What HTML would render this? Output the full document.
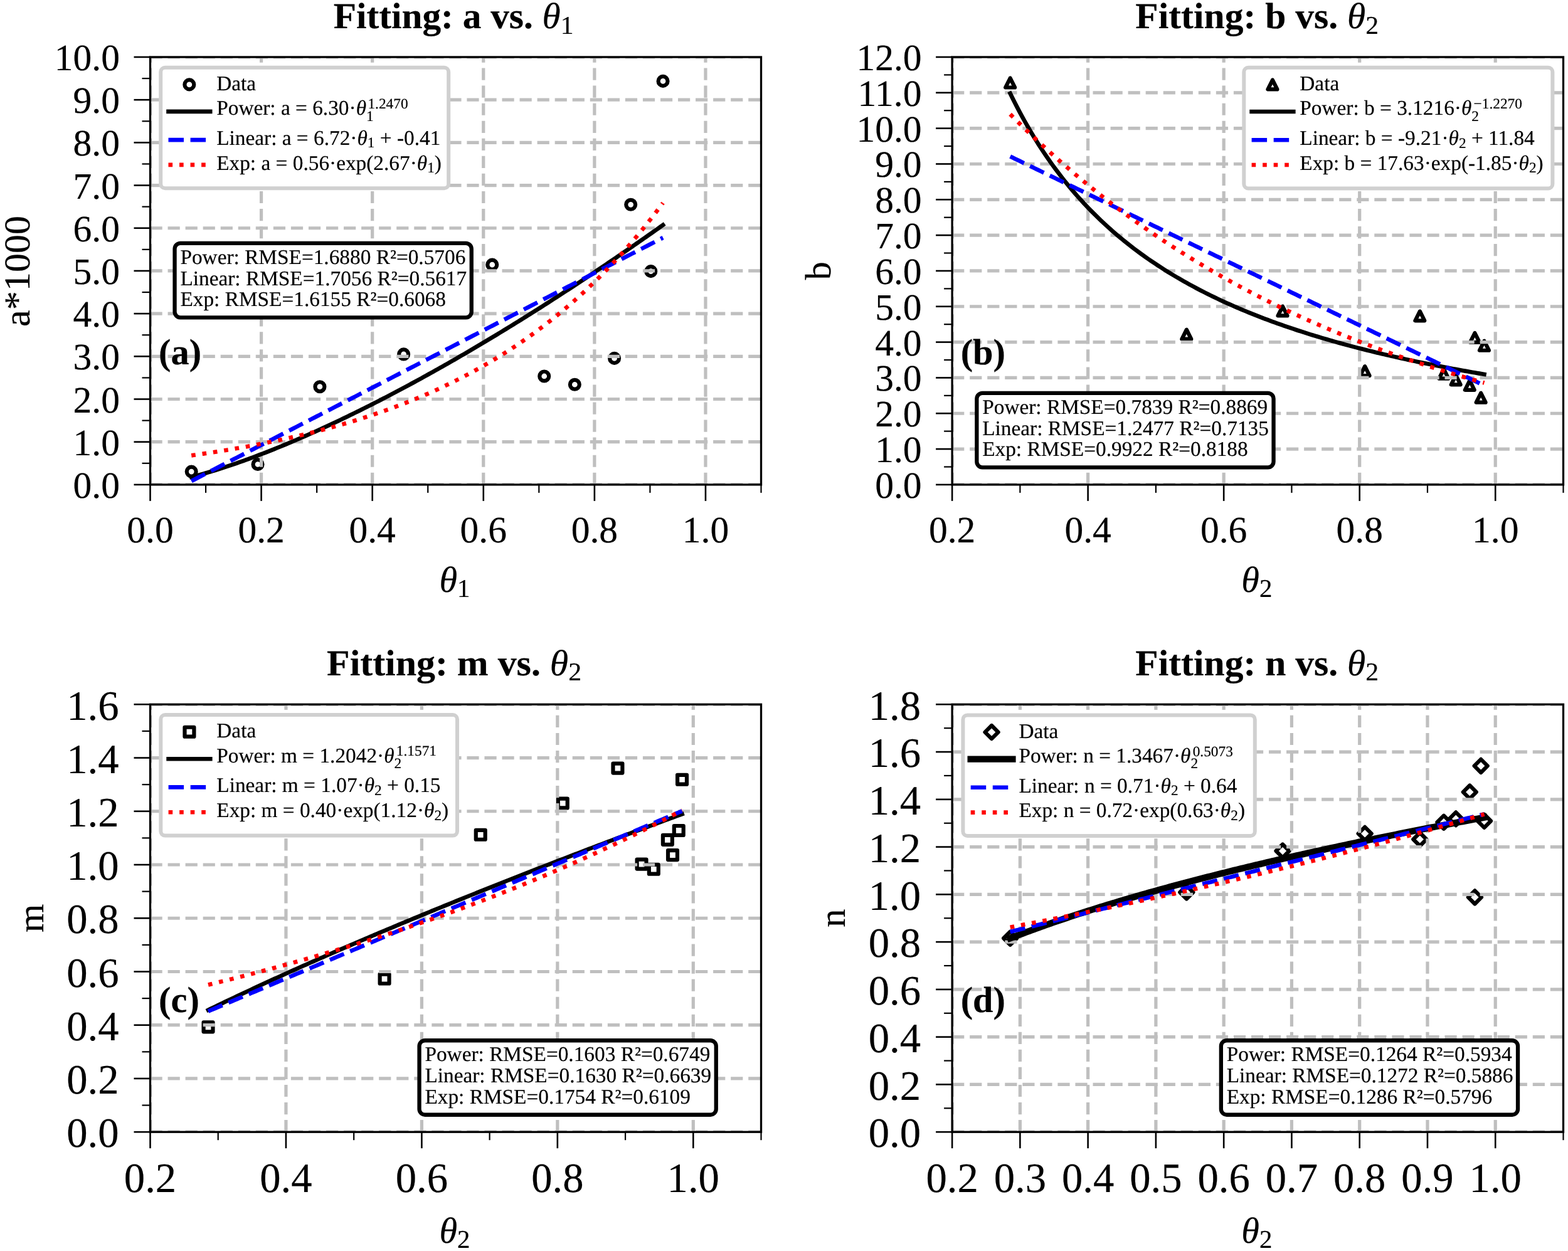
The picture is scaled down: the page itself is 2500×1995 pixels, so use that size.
<!DOCTYPE html>
<html><head><meta charset="utf-8"><title>Fitting results</title>
<style>
html,body{margin:0;padding:0;background:#fff;}
svg{display:block;}
text{text-rendering:geometricPrecision;white-space:pre;stroke:#000;stroke-width:0.2px;stroke-linejoin:round;}
</style></head>
<body>
<svg width="2500" height="1995" viewBox="0 0 2500 1995">
<rect x="0" y="0" width="2500" height="1995" fill="#fff"/>
<clipPath id="clipa"><rect x="239.5" y="91.0" width="974.0" height="681.9"/></clipPath>
<g clip-path="url(#clipa)">
<circle cx="305.2" cy="752.1" r="7.45" fill="none" stroke="#000" stroke-width="6.2" stroke-linejoin="round"/>
<circle cx="411.01" cy="740.51" r="7.45" fill="none" stroke="#000" stroke-width="6.2" stroke-linejoin="round"/>
<circle cx="509.92" cy="616.68" r="7.45" fill="none" stroke="#000" stroke-width="6.2" stroke-linejoin="round"/>
<circle cx="643.62" cy="564.92" r="7.45" fill="none" stroke="#000" stroke-width="6.2" stroke-linejoin="round"/>
<circle cx="784.76" cy="422.13" r="7.45" fill="none" stroke="#000" stroke-width="6.2" stroke-linejoin="round"/>
<circle cx="867.73" cy="599.97" r="7.45" fill="none" stroke="#000" stroke-width="6.2" stroke-linejoin="round"/>
<circle cx="916.34" cy="613.27" r="7.45" fill="none" stroke="#000" stroke-width="6.2" stroke-linejoin="round"/>
<circle cx="979.56" cy="571.4" r="7.45" fill="none" stroke="#000" stroke-width="6.2" stroke-linejoin="round"/>
<circle cx="1005.68" cy="326.32" r="7.45" fill="none" stroke="#000" stroke-width="6.2" stroke-linejoin="round"/>
<circle cx="1037.74" cy="432.63" r="7.45" fill="none" stroke="#000" stroke-width="6.2" stroke-linejoin="round"/>
<circle cx="1057.04" cy="129.39" r="7.45" fill="none" stroke="#000" stroke-width="6.2" stroke-linejoin="round"/>
</g>
<g clip-path="url(#clipa)" stroke="#bfbfbf" stroke-width="5.2" stroke-dasharray="19.2 8.85" fill="none">
<path d="M239.5,772.9 H1213.5"/>
<path d="M239.5,704.71 H1213.5"/>
<path d="M239.5,636.52 H1213.5"/>
<path d="M239.5,568.33 H1213.5"/>
<path d="M239.5,500.14 H1213.5"/>
<path d="M239.5,431.95 H1213.5"/>
<path d="M239.5,363.76 H1213.5"/>
<path d="M239.5,295.57 H1213.5"/>
<path d="M239.5,227.38 H1213.5"/>
<path d="M239.5,159.19 H1213.5"/>
<path d="M239.5,91 H1213.5"/>
<path d="M239.5,772.9 V91"/>
<path d="M416.59,772.9 V91"/>
<path d="M593.68,772.9 V91"/>
<path d="M770.77,772.9 V91"/>
<path d="M947.86,772.9 V91"/>
<path d="M1124.95,772.9 V91"/>
</g>
<g clip-path="url(#clipa)" fill="none" stroke-linejoin="round">
<path d="M305.2,760.76 L308.98,759.77 L312.76,758.76 L316.53,757.73 L320.31,756.68 L324.09,755.61 L327.87,754.52 L331.65,753.41 L335.43,752.28 L339.2,751.14 L342.98,749.97 L346.76,748.79 L350.54,747.59 L354.32,746.38 L358.09,745.15 L361.87,743.91 L365.65,742.64 L369.43,741.37 L373.21,740.08 L376.98,738.77 L380.76,737.45 L384.54,736.12 L388.32,734.77 L392.1,733.41 L395.87,732.03 L399.65,730.64 L403.43,729.24 L407.21,727.82 L410.99,726.4 L414.77,724.96 L418.54,723.5 L422.32,722.04 L426.1,720.56 L429.88,719.07 L433.66,717.57 L437.43,716.06 L441.21,714.53 L444.99,712.99 L448.77,711.45 L452.55,709.89 L456.32,708.32 L460.1,706.74 L463.88,705.15 L467.66,703.54 L471.44,701.93 L475.21,700.31 L478.99,698.67 L482.77,697.03 L486.55,695.37 L490.33,693.71 L494.11,692.03 L497.88,690.35 L501.66,688.65 L505.44,686.95 L509.22,685.23 L513,683.51 L516.77,681.78 L520.55,680.03 L524.33,678.28 L528.11,676.52 L531.89,674.75 L535.66,672.97 L539.44,671.18 L543.22,669.38 L547,667.57 L550.78,665.76 L554.55,663.93 L558.33,662.1 L562.11,660.26 L565.89,658.4 L569.67,656.55 L573.44,654.68 L577.22,652.8 L581,650.91 L584.78,649.02 L588.56,647.12 L592.34,645.21 L596.11,643.29 L599.89,641.36 L603.67,639.43 L607.45,637.49 L611.23,635.54 L615,633.58 L618.78,631.61 L622.56,629.64 L626.34,627.66 L630.12,625.67 L633.89,623.67 L637.67,621.66 L641.45,619.65 L645.23,617.63 L649.01,615.6 L652.78,613.57 L656.56,611.52 L660.34,609.47 L664.12,607.42 L667.9,605.35 L671.68,603.28 L675.45,601.2 L679.23,599.11 L683.01,597.02 L686.79,594.92 L690.57,592.81 L694.34,590.69 L698.12,588.57 L701.9,586.44 L705.68,584.3 L709.46,582.16 L713.23,580.01 L717.01,577.85 L720.79,575.69 L724.57,573.52 L728.35,571.34 L732.12,569.16 L735.9,566.97 L739.68,564.77 L743.46,562.57 L747.24,560.35 L751.02,558.14 L754.79,555.91 L758.57,553.68 L762.35,551.45 L766.13,549.2 L769.91,546.95 L773.68,544.7 L777.46,542.43 L781.24,540.16 L785.02,537.89 L788.8,535.61 L792.57,533.32 L796.35,531.02 L800.13,528.72 L803.91,526.42 L807.69,524.1 L811.46,521.78 L815.24,519.46 L819.02,517.13 L822.8,514.79 L826.58,512.45 L830.35,510.1 L834.13,507.74 L837.91,505.38 L841.69,503.01 L845.47,500.64 L849.25,498.26 L853.02,495.87 L856.8,493.48 L860.58,491.09 L864.36,488.68 L868.14,486.27 L871.91,483.86 L875.69,481.44 L879.47,479.01 L883.25,476.58 L887.03,474.14 L890.8,471.7 L894.58,469.25 L898.36,466.8 L902.14,464.34 L905.92,461.87 L909.69,459.4 L913.47,456.92 L917.25,454.44 L921.03,451.95 L924.81,449.46 L928.59,446.96 L932.36,444.45 L936.14,441.94 L939.92,439.43 L943.7,436.91 L947.48,434.38 L951.25,431.85 L955.03,429.31 L958.81,426.77 L962.59,424.22 L966.37,421.67 L970.14,419.11 L973.92,416.55 L977.7,413.98 L981.48,411.4 L985.26,408.82 L989.03,406.24 L992.81,403.65 L996.59,401.05 L1000.37,398.45 L1004.15,395.85 L1007.93,393.24 L1011.7,390.62 L1015.48,388 L1019.26,385.37 L1023.04,382.74 L1026.82,380.1 L1030.59,377.46 L1034.37,374.82 L1038.15,372.17 L1041.93,369.51 L1045.71,366.85 L1049.48,364.18 L1053.26,361.51 L1057.04,358.83" stroke="#000" stroke-width="6.62" stroke-linecap="square"/>
<path d="M305.2,767.15 L308.98,765.2 L312.76,763.25 L316.53,761.3 L320.31,759.35 L324.09,757.4 L327.87,755.45 L331.65,753.5 L335.43,751.55 L339.2,749.59 L342.98,747.64 L346.76,745.69 L350.54,743.74 L354.32,741.79 L358.09,739.84 L361.87,737.89 L365.65,735.94 L369.43,733.99 L373.21,732.04 L376.98,730.09 L380.76,728.14 L384.54,726.19 L388.32,724.24 L392.1,722.29 L395.87,720.34 L399.65,718.39 L403.43,716.44 L407.21,714.49 L410.99,712.54 L414.77,710.59 L418.54,708.64 L422.32,706.69 L426.1,704.74 L429.88,702.79 L433.66,700.84 L437.43,698.89 L441.21,696.94 L444.99,694.99 L448.77,693.04 L452.55,691.09 L456.32,689.14 L460.1,687.19 L463.88,685.24 L467.66,683.29 L471.44,681.34 L475.21,679.38 L478.99,677.43 L482.77,675.48 L486.55,673.53 L490.33,671.58 L494.11,669.63 L497.88,667.68 L501.66,665.73 L505.44,663.78 L509.22,661.83 L513,659.88 L516.77,657.93 L520.55,655.98 L524.33,654.03 L528.11,652.08 L531.89,650.13 L535.66,648.18 L539.44,646.23 L543.22,644.28 L547,642.33 L550.78,640.38 L554.55,638.43 L558.33,636.48 L562.11,634.53 L565.89,632.58 L569.67,630.63 L573.44,628.68 L577.22,626.73 L581,624.78 L584.78,622.83 L588.56,620.88 L592.34,618.93 L596.11,616.98 L599.89,615.03 L603.67,613.08 L607.45,611.13 L611.23,609.18 L615,607.22 L618.78,605.27 L622.56,603.32 L626.34,601.37 L630.12,599.42 L633.89,597.47 L637.67,595.52 L641.45,593.57 L645.23,591.62 L649.01,589.67 L652.78,587.72 L656.56,585.77 L660.34,583.82 L664.12,581.87 L667.9,579.92 L671.68,577.97 L675.45,576.02 L679.23,574.07 L683.01,572.12 L686.79,570.17 L690.57,568.22 L694.34,566.27 L698.12,564.32 L701.9,562.37 L705.68,560.42 L709.46,558.47 L713.23,556.52 L717.01,554.57 L720.79,552.62 L724.57,550.67 L728.35,548.72 L732.12,546.77 L735.9,544.82 L739.68,542.87 L743.46,540.92 L747.24,538.97 L751.02,537.01 L754.79,535.06 L758.57,533.11 L762.35,531.16 L766.13,529.21 L769.91,527.26 L773.68,525.31 L777.46,523.36 L781.24,521.41 L785.02,519.46 L788.8,517.51 L792.57,515.56 L796.35,513.61 L800.13,511.66 L803.91,509.71 L807.69,507.76 L811.46,505.81 L815.24,503.86 L819.02,501.91 L822.8,499.96 L826.58,498.01 L830.35,496.06 L834.13,494.11 L837.91,492.16 L841.69,490.21 L845.47,488.26 L849.25,486.31 L853.02,484.36 L856.8,482.41 L860.58,480.46 L864.36,478.51 L868.14,476.56 L871.91,474.61 L875.69,472.66 L879.47,470.71 L883.25,468.76 L887.03,466.81 L890.8,464.85 L894.58,462.9 L898.36,460.95 L902.14,459 L905.92,457.05 L909.69,455.1 L913.47,453.15 L917.25,451.2 L921.03,449.25 L924.81,447.3 L928.59,445.35 L932.36,443.4 L936.14,441.45 L939.92,439.5 L943.7,437.55 L947.48,435.6 L951.25,433.65 L955.03,431.7 L958.81,429.75 L962.59,427.8 L966.37,425.85 L970.14,423.9 L973.92,421.95 L977.7,420 L981.48,418.05 L985.26,416.1 L989.03,414.15 L992.81,412.2 L996.59,410.25 L1000.37,408.3 L1004.15,406.35 L1007.93,404.4 L1011.7,402.45 L1015.48,400.5 L1019.26,398.55 L1023.04,396.6 L1026.82,394.64 L1030.59,392.69 L1034.37,390.74 L1038.15,388.79 L1041.93,386.84 L1045.71,384.89 L1049.48,382.94 L1053.26,380.99 L1057.04,379.04" stroke="#0000ff" stroke-width="6.62" stroke-dasharray="24.49 10.59" stroke-linecap="butt"/>
<path d="M305.2,726.35 L308.98,725.81 L312.76,725.27 L316.53,724.73 L320.31,724.18 L324.09,723.62 L327.87,723.05 L331.65,722.48 L335.43,721.9 L339.2,721.32 L342.98,720.73 L346.76,720.13 L350.54,719.53 L354.32,718.92 L358.09,718.3 L361.87,717.67 L365.65,717.04 L369.43,716.4 L373.21,715.75 L376.98,715.1 L380.76,714.43 L384.54,713.76 L388.32,713.09 L392.1,712.4 L395.87,711.71 L399.65,711.01 L403.43,710.3 L407.21,709.58 L410.99,708.86 L414.77,708.12 L418.54,707.38 L422.32,706.63 L426.1,705.87 L429.88,705.1 L433.66,704.32 L437.43,703.54 L441.21,702.74 L444.99,701.94 L448.77,701.13 L452.55,700.3 L456.32,699.47 L460.1,698.63 L463.88,697.78 L467.66,696.92 L471.44,696.05 L475.21,695.17 L478.99,694.28 L482.77,693.38 L486.55,692.47 L490.33,691.54 L494.11,690.61 L497.88,689.67 L501.66,688.72 L505.44,687.75 L509.22,686.78 L513,685.79 L516.77,684.79 L520.55,683.78 L524.33,682.76 L528.11,681.73 L531.89,680.68 L535.66,679.63 L539.44,678.56 L543.22,677.48 L547,676.38 L550.78,675.28 L554.55,674.16 L558.33,673.03 L562.11,671.88 L565.89,670.73 L569.67,669.56 L573.44,668.37 L577.22,667.17 L581,665.96 L584.78,664.74 L588.56,663.5 L592.34,662.24 L596.11,660.98 L599.89,659.69 L603.67,658.4 L607.45,657.09 L611.23,655.76 L615,654.42 L618.78,653.06 L622.56,651.69 L626.34,650.3 L630.12,648.89 L633.89,647.47 L637.67,646.03 L641.45,644.58 L645.23,643.11 L649.01,641.62 L652.78,640.12 L656.56,638.6 L660.34,637.06 L664.12,635.5 L667.9,633.93 L671.68,632.34 L675.45,630.73 L679.23,629.1 L683.01,627.45 L686.79,625.78 L690.57,624.1 L694.34,622.39 L698.12,620.67 L701.9,618.92 L705.68,617.16 L709.46,615.37 L713.23,613.57 L717.01,611.74 L720.79,609.9 L724.57,608.03 L728.35,606.14 L732.12,604.23 L735.9,602.3 L739.68,600.34 L743.46,598.37 L747.24,596.37 L751.02,594.34 L754.79,592.3 L758.57,590.23 L762.35,588.14 L766.13,586.02 L769.91,583.88 L773.68,581.71 L777.46,579.52 L781.24,577.31 L785.02,575.06 L788.8,572.8 L792.57,570.51 L796.35,568.19 L800.13,565.84 L803.91,563.47 L807.69,561.07 L811.46,558.64 L815.24,556.19 L819.02,553.7 L822.8,551.19 L826.58,548.65 L830.35,546.08 L834.13,543.48 L837.91,540.86 L841.69,538.2 L845.47,535.51 L849.25,532.79 L853.02,530.04 L856.8,527.25 L860.58,524.44 L864.36,521.59 L868.14,518.71 L871.91,515.8 L875.69,512.86 L879.47,509.88 L883.25,506.86 L887.03,503.81 L890.8,500.73 L894.58,497.61 L898.36,494.46 L902.14,491.27 L905.92,488.04 L909.69,484.78 L913.47,481.48 L917.25,478.14 L921.03,474.76 L924.81,471.34 L928.59,467.89 L932.36,464.39 L936.14,460.86 L939.92,457.28 L943.7,453.67 L947.48,450.01 L951.25,446.31 L955.03,442.57 L958.81,438.78 L962.59,434.96 L966.37,431.08 L970.14,427.17 L973.92,423.21 L977.7,419.2 L981.48,415.15 L985.26,411.05 L989.03,406.9 L992.81,402.71 L996.59,398.47 L1000.37,394.18 L1004.15,389.84 L1007.93,385.45 L1011.7,381.01 L1015.48,376.52 L1019.26,371.98 L1023.04,367.38 L1026.82,362.74 L1030.59,358.04 L1034.37,353.29 L1038.15,348.48 L1041.93,343.62 L1045.71,338.7 L1049.48,333.72 L1053.26,328.69 L1057.04,323.6" stroke="#ff0000" stroke-width="6.62" stroke-dasharray="6.62 10.92" stroke-linecap="butt"/>
</g>
<rect x="239.5" y="91.0" width="974" height="681.9" fill="none" stroke="#000" stroke-width="3.3" stroke-linejoin="miter"/>
<g stroke="#000" fill="none"><path d="M239.5,772.9 V798.9" stroke-width="2.6"/><path d="M416.59,772.9 V798.9" stroke-width="2.6"/><path d="M593.68,772.9 V798.9" stroke-width="2.6"/><path d="M770.77,772.9 V798.9" stroke-width="2.6"/><path d="M947.86,772.9 V798.9" stroke-width="2.6"/><path d="M1124.95,772.9 V798.9" stroke-width="2.6"/><path d="M328.05,772.9 V785.9" stroke-width="2.2"/><path d="M505.14,772.9 V785.9" stroke-width="2.2"/><path d="M682.23,772.9 V785.9" stroke-width="2.2"/><path d="M859.32,772.9 V785.9" stroke-width="2.2"/><path d="M1036.41,772.9 V785.9" stroke-width="2.2"/><path d="M1213.5,772.9 V785.9" stroke-width="2.2"/><path d="M239.5,772.9 H213.5" stroke-width="2.6"/><path d="M239.5,704.71 H213.5" stroke-width="2.6"/><path d="M239.5,636.52 H213.5" stroke-width="2.6"/><path d="M239.5,568.33 H213.5" stroke-width="2.6"/><path d="M239.5,500.14 H213.5" stroke-width="2.6"/><path d="M239.5,431.95 H213.5" stroke-width="2.6"/><path d="M239.5,363.76 H213.5" stroke-width="2.6"/><path d="M239.5,295.57 H213.5" stroke-width="2.6"/><path d="M239.5,227.38 H213.5" stroke-width="2.6"/><path d="M239.5,159.19 H213.5" stroke-width="2.6"/><path d="M239.5,91 H213.5" stroke-width="2.6"/><path d="M239.5,738.8 H226.5" stroke-width="2.2"/><path d="M239.5,670.62 H226.5" stroke-width="2.2"/><path d="M239.5,602.42 H226.5" stroke-width="2.2"/><path d="M239.5,534.24 H226.5" stroke-width="2.2"/><path d="M239.5,466.04 H226.5" stroke-width="2.2"/><path d="M239.5,397.85 H226.5" stroke-width="2.2"/><path d="M239.5,329.66 H226.5" stroke-width="2.2"/><path d="M239.5,261.48 H226.5" stroke-width="2.2"/><path d="M239.5,193.28 H226.5" stroke-width="2.2"/><path d="M239.5,125.1 H226.5" stroke-width="2.2"/></g>
<g font-family="'Liberation Serif','Times New Roman',serif" font-size="59.5" fill="#000">
<text x="239.5" y="864.5" text-anchor="middle">0.0</text>
<text x="416.59" y="864.5" text-anchor="middle">0.2</text>
<text x="593.68" y="864.5" text-anchor="middle">0.4</text>
<text x="770.77" y="864.5" text-anchor="middle">0.6</text>
<text x="947.86" y="864.5" text-anchor="middle">0.8</text>
<text x="1124.95" y="864.5" text-anchor="middle">1.0</text>
<text x="190.9" y="793.9" text-anchor="end">0.0</text>
<text x="190.9" y="725.71" text-anchor="end">1.0</text>
<text x="190.9" y="657.52" text-anchor="end">2.0</text>
<text x="190.9" y="589.33" text-anchor="end">3.0</text>
<text x="190.9" y="521.14" text-anchor="end">4.0</text>
<text x="190.9" y="452.95" text-anchor="end">5.0</text>
<text x="190.9" y="384.76" text-anchor="end">6.0</text>
<text x="190.9" y="316.57" text-anchor="end">7.0</text>
<text x="190.9" y="248.38" text-anchor="end">8.0</text>
<text x="190.9" y="180.19" text-anchor="end">9.0</text>
<text x="190.9" y="112" text-anchor="end">10.0</text>
</g>
<clipPath id="clipb"><rect x="1518.1" y="91.0" width="974.4000000000001" height="681.9"/></clipPath>
<g clip-path="url(#clipb)">
<path d="M1610.67,124.58 L1603.22,139.48 L1618.12,139.48 Z" fill="none" stroke="#000" stroke-width="6.2" stroke-linejoin="round"/>
<path d="M1891.84,525.76 L1884.39,540.66 L1899.29,540.66 Z" fill="none" stroke="#000" stroke-width="6.2" stroke-linejoin="round"/>
<path d="M2045.03,488.54 L2037.58,503.44 L2052.48,503.44 Z" fill="none" stroke="#000" stroke-width="6.2" stroke-linejoin="round"/>
<path d="M2176.14,584.18 L2168.69,599.08 L2183.59,599.08 Z" fill="none" stroke="#000" stroke-width="6.2" stroke-linejoin="round"/>
<path d="M2263.84,496.44 L2256.39,511.34 L2271.29,511.34 Z" fill="none" stroke="#000" stroke-width="6.2" stroke-linejoin="round"/>
<path d="M2301.95,588.72 L2294.5,603.62 L2309.4,603.62 Z" fill="none" stroke="#000" stroke-width="6.2" stroke-linejoin="round"/>
<path d="M2321.22,598.38 L2313.77,613.28 L2328.67,613.28 Z" fill="none" stroke="#000" stroke-width="6.2" stroke-linejoin="round"/>
<path d="M2343.31,606.91 L2335.86,621.81 L2350.76,621.81 Z" fill="none" stroke="#000" stroke-width="6.2" stroke-linejoin="round"/>
<path d="M2351.43,531.05 L2343.98,545.95 L2358.88,545.95 Z" fill="none" stroke="#000" stroke-width="6.2" stroke-linejoin="round"/>
<path d="M2361.17,626.8 L2353.72,641.7 L2368.62,641.7 Z" fill="none" stroke="#000" stroke-width="6.2" stroke-linejoin="round"/>
<path d="M2366.48,543.83 L2359.03,558.73 L2373.93,558.73 Z" fill="none" stroke="#000" stroke-width="6.2" stroke-linejoin="round"/>
</g>
<g clip-path="url(#clipb)" stroke="#bfbfbf" stroke-width="5.2" stroke-dasharray="19.2 8.85" fill="none">
<path d="M1518.1,772.9 H2492.5"/>
<path d="M1518.1,716.07 H2492.5"/>
<path d="M1518.1,659.25 H2492.5"/>
<path d="M1518.1,602.42 H2492.5"/>
<path d="M1518.1,545.6 H2492.5"/>
<path d="M1518.1,488.77 H2492.5"/>
<path d="M1518.1,431.95 H2492.5"/>
<path d="M1518.1,375.12 H2492.5"/>
<path d="M1518.1,318.3 H2492.5"/>
<path d="M1518.1,261.48 H2492.5"/>
<path d="M1518.1,204.65 H2492.5"/>
<path d="M1518.1,147.83 H2492.5"/>
<path d="M1518.1,91 H2492.5"/>
<path d="M1518.1,772.9 V91"/>
<path d="M1734.63,772.9 V91"/>
<path d="M1951.17,772.9 V91"/>
<path d="M2167.7,772.9 V91"/>
<path d="M2384.23,772.9 V91"/>
</g>
<g clip-path="url(#clipb)" fill="none" stroke-linejoin="round">
<path d="M1610.67,148.95 L1614.47,156.7 L1618.26,164.26 L1622.06,171.64 L1625.86,178.84 L1629.66,185.88 L1633.46,192.75 L1637.25,199.46 L1641.05,206.03 L1644.85,212.44 L1648.65,218.72 L1652.45,224.86 L1656.24,230.86 L1660.04,236.74 L1663.84,242.49 L1667.64,248.12 L1671.44,253.63 L1675.23,259.03 L1679.03,264.32 L1682.83,269.5 L1686.63,274.58 L1690.43,279.56 L1694.22,284.44 L1698.02,289.23 L1701.82,293.93 L1705.62,298.53 L1709.42,303.05 L1713.22,307.49 L1717.01,311.84 L1720.81,316.11 L1724.61,320.31 L1728.41,324.43 L1732.21,328.48 L1736,332.45 L1739.8,336.36 L1743.6,340.19 L1747.4,343.97 L1751.2,347.67 L1754.99,351.32 L1758.79,354.9 L1762.59,358.42 L1766.39,361.89 L1770.19,365.3 L1773.98,368.65 L1777.78,371.95 L1781.58,375.19 L1785.38,378.39 L1789.18,381.53 L1792.97,384.63 L1796.77,387.67 L1800.57,390.67 L1804.37,393.63 L1808.17,396.54 L1811.96,399.4 L1815.76,402.22 L1819.56,405 L1823.36,407.74 L1827.16,410.44 L1830.95,413.1 L1834.75,415.73 L1838.55,418.31 L1842.35,420.86 L1846.15,423.37 L1849.94,425.85 L1853.74,428.29 L1857.54,430.7 L1861.34,433.07 L1865.14,435.42 L1868.93,437.73 L1872.73,440.01 L1876.53,442.26 L1880.33,444.48 L1884.13,446.67 L1887.92,448.83 L1891.72,450.96 L1895.52,453.07 L1899.32,455.15 L1903.12,457.2 L1906.91,459.23 L1910.71,461.23 L1914.51,463.21 L1918.31,465.16 L1922.11,467.08 L1925.91,468.99 L1929.7,470.87 L1933.5,472.73 L1937.3,474.56 L1941.1,476.37 L1944.9,478.16 L1948.69,479.93 L1952.49,481.68 L1956.29,483.41 L1960.09,485.12 L1963.89,486.81 L1967.68,488.48 L1971.48,490.13 L1975.28,491.76 L1979.08,493.37 L1982.88,494.96 L1986.67,496.54 L1990.47,498.1 L1994.27,499.64 L1998.07,501.17 L2001.87,502.67 L2005.66,504.17 L2009.46,505.64 L2013.26,507.1 L2017.06,508.54 L2020.86,509.97 L2024.65,511.38 L2028.45,512.78 L2032.25,514.17 L2036.05,515.53 L2039.85,516.89 L2043.64,518.23 L2047.44,519.56 L2051.24,520.87 L2055.04,522.17 L2058.84,523.46 L2062.63,524.73 L2066.43,525.99 L2070.23,527.24 L2074.03,528.47 L2077.83,529.7 L2081.62,530.91 L2085.42,532.11 L2089.22,533.3 L2093.02,534.47 L2096.82,535.64 L2100.61,536.79 L2104.41,537.94 L2108.21,539.07 L2112.01,540.19 L2115.81,541.3 L2119.61,542.4 L2123.4,543.49 L2127.2,544.57 L2131,545.64 L2134.8,546.7 L2138.6,547.75 L2142.39,548.79 L2146.19,549.82 L2149.99,550.84 L2153.79,551.85 L2157.59,552.86 L2161.38,553.85 L2165.18,554.84 L2168.98,555.82 L2172.78,556.78 L2176.58,557.74 L2180.37,558.69 L2184.17,559.64 L2187.97,560.57 L2191.77,561.5 L2195.57,562.42 L2199.36,563.33 L2203.16,564.23 L2206.96,565.13 L2210.76,566.02 L2214.56,566.9 L2218.35,567.77 L2222.15,568.64 L2225.95,569.49 L2229.75,570.35 L2233.55,571.19 L2237.34,572.03 L2241.14,572.86 L2244.94,573.68 L2248.74,574.5 L2252.54,575.31 L2256.33,576.12 L2260.13,576.91 L2263.93,577.7 L2267.73,578.49 L2271.53,579.27 L2275.32,580.04 L2279.12,580.81 L2282.92,581.57 L2286.72,582.32 L2290.52,583.07 L2294.31,583.82 L2298.11,584.55 L2301.91,585.28 L2305.71,586.01 L2309.51,586.73 L2313.31,587.45 L2317.1,588.16 L2320.9,588.86 L2324.7,589.56 L2328.5,590.25 L2332.3,590.94 L2336.09,591.62 L2339.89,592.3 L2343.69,592.98 L2347.49,593.65 L2351.29,594.31 L2355.08,594.97 L2358.88,595.62 L2362.68,596.27 L2366.48,596.92" stroke="#000" stroke-width="6.62" stroke-linecap="square"/>
<path d="M1610.67,249.51 L1614.47,251.35 L1618.26,253.18 L1622.06,255.02 L1625.86,256.85 L1629.66,258.69 L1633.46,260.53 L1637.25,262.36 L1641.05,264.2 L1644.85,266.03 L1648.65,267.87 L1652.45,269.71 L1656.24,271.54 L1660.04,273.38 L1663.84,275.21 L1667.64,277.05 L1671.44,278.89 L1675.23,280.72 L1679.03,282.56 L1682.83,284.39 L1686.63,286.23 L1690.43,288.07 L1694.22,289.9 L1698.02,291.74 L1701.82,293.57 L1705.62,295.41 L1709.42,297.25 L1713.22,299.08 L1717.01,300.92 L1720.81,302.75 L1724.61,304.59 L1728.41,306.43 L1732.21,308.26 L1736,310.1 L1739.8,311.93 L1743.6,313.77 L1747.4,315.61 L1751.2,317.44 L1754.99,319.28 L1758.79,321.11 L1762.59,322.95 L1766.39,324.79 L1770.19,326.62 L1773.98,328.46 L1777.78,330.29 L1781.58,332.13 L1785.38,333.97 L1789.18,335.8 L1792.97,337.64 L1796.77,339.47 L1800.57,341.31 L1804.37,343.14 L1808.17,344.98 L1811.96,346.82 L1815.76,348.65 L1819.56,350.49 L1823.36,352.32 L1827.16,354.16 L1830.95,356 L1834.75,357.83 L1838.55,359.67 L1842.35,361.5 L1846.15,363.34 L1849.94,365.18 L1853.74,367.01 L1857.54,368.85 L1861.34,370.68 L1865.14,372.52 L1868.93,374.36 L1872.73,376.19 L1876.53,378.03 L1880.33,379.86 L1884.13,381.7 L1887.92,383.54 L1891.72,385.37 L1895.52,387.21 L1899.32,389.04 L1903.12,390.88 L1906.91,392.72 L1910.71,394.55 L1914.51,396.39 L1918.31,398.22 L1922.11,400.06 L1925.91,401.9 L1929.7,403.73 L1933.5,405.57 L1937.3,407.4 L1941.1,409.24 L1944.9,411.08 L1948.69,412.91 L1952.49,414.75 L1956.29,416.58 L1960.09,418.42 L1963.89,420.26 L1967.68,422.09 L1971.48,423.93 L1975.28,425.76 L1979.08,427.6 L1982.88,429.44 L1986.67,431.27 L1990.47,433.11 L1994.27,434.94 L1998.07,436.78 L2001.87,438.61 L2005.66,440.45 L2009.46,442.29 L2013.26,444.12 L2017.06,445.96 L2020.86,447.79 L2024.65,449.63 L2028.45,451.47 L2032.25,453.3 L2036.05,455.14 L2039.85,456.97 L2043.64,458.81 L2047.44,460.65 L2051.24,462.48 L2055.04,464.32 L2058.84,466.15 L2062.63,467.99 L2066.43,469.83 L2070.23,471.66 L2074.03,473.5 L2077.83,475.33 L2081.62,477.17 L2085.42,479.01 L2089.22,480.84 L2093.02,482.68 L2096.82,484.51 L2100.61,486.35 L2104.41,488.19 L2108.21,490.02 L2112.01,491.86 L2115.81,493.69 L2119.61,495.53 L2123.4,497.37 L2127.2,499.2 L2131,501.04 L2134.8,502.87 L2138.6,504.71 L2142.39,506.55 L2146.19,508.38 L2149.99,510.22 L2153.79,512.05 L2157.59,513.89 L2161.38,515.73 L2165.18,517.56 L2168.98,519.4 L2172.78,521.23 L2176.58,523.07 L2180.37,524.91 L2184.17,526.74 L2187.97,528.58 L2191.77,530.41 L2195.57,532.25 L2199.36,534.08 L2203.16,535.92 L2206.96,537.76 L2210.76,539.59 L2214.56,541.43 L2218.35,543.26 L2222.15,545.1 L2225.95,546.94 L2229.75,548.77 L2233.55,550.61 L2237.34,552.44 L2241.14,554.28 L2244.94,556.12 L2248.74,557.95 L2252.54,559.79 L2256.33,561.62 L2260.13,563.46 L2263.93,565.3 L2267.73,567.13 L2271.53,568.97 L2275.32,570.8 L2279.12,572.64 L2282.92,574.48 L2286.72,576.31 L2290.52,578.15 L2294.31,579.98 L2298.11,581.82 L2301.91,583.66 L2305.71,585.49 L2309.51,587.33 L2313.31,589.16 L2317.1,591 L2320.9,592.84 L2324.7,594.67 L2328.5,596.51 L2332.3,598.34 L2336.09,600.18 L2339.89,602.02 L2343.69,603.85 L2347.49,605.69 L2351.29,607.52 L2355.08,609.36 L2358.88,611.2 L2362.68,613.03 L2366.48,614.87" stroke="#0000ff" stroke-width="6.62" stroke-dasharray="24.49 10.59" stroke-linecap="butt"/>
<path d="M1610.67,182.14 L1614.47,185.97 L1618.26,189.76 L1622.06,193.53 L1625.86,197.28 L1629.66,201.01 L1633.46,204.71 L1637.25,208.38 L1641.05,212.03 L1644.85,215.66 L1648.65,219.27 L1652.45,222.85 L1656.24,226.41 L1660.04,229.94 L1663.84,233.45 L1667.64,236.94 L1671.44,240.41 L1675.23,243.85 L1679.03,247.28 L1682.83,250.68 L1686.63,254.05 L1690.43,257.41 L1694.22,260.75 L1698.02,264.06 L1701.82,267.35 L1705.62,270.62 L1709.42,273.87 L1713.22,277.1 L1717.01,280.31 L1720.81,283.49 L1724.61,286.66 L1728.41,289.8 L1732.21,292.93 L1736,296.03 L1739.8,299.12 L1743.6,302.18 L1747.4,305.23 L1751.2,308.25 L1754.99,311.26 L1758.79,314.25 L1762.59,317.21 L1766.39,320.16 L1770.19,323.09 L1773.98,326 L1777.78,328.89 L1781.58,331.76 L1785.38,334.62 L1789.18,337.45 L1792.97,340.27 L1796.77,343.07 L1800.57,345.85 L1804.37,348.61 L1808.17,351.35 L1811.96,354.08 L1815.76,356.79 L1819.56,359.48 L1823.36,362.16 L1827.16,364.81 L1830.95,367.45 L1834.75,370.08 L1838.55,372.68 L1842.35,375.27 L1846.15,377.84 L1849.94,380.4 L1853.74,382.94 L1857.54,385.46 L1861.34,387.97 L1865.14,390.46 L1868.93,392.93 L1872.73,395.39 L1876.53,397.83 L1880.33,400.26 L1884.13,402.67 L1887.92,405.06 L1891.72,407.44 L1895.52,409.81 L1899.32,412.15 L1903.12,414.49 L1906.91,416.81 L1910.71,419.11 L1914.51,421.4 L1918.31,423.67 L1922.11,425.93 L1925.91,428.18 L1929.7,430.41 L1933.5,432.62 L1937.3,434.82 L1941.1,437.01 L1944.9,439.18 L1948.69,441.34 L1952.49,443.49 L1956.29,445.62 L1960.09,447.73 L1963.89,449.84 L1967.68,451.93 L1971.48,454 L1975.28,456.07 L1979.08,458.12 L1982.88,460.15 L1986.67,462.18 L1990.47,464.19 L1994.27,466.18 L1998.07,468.17 L2001.87,470.14 L2005.66,472.1 L2009.46,474.04 L2013.26,475.98 L2017.06,477.9 L2020.86,479.8 L2024.65,481.7 L2028.45,483.58 L2032.25,485.46 L2036.05,487.32 L2039.85,489.16 L2043.64,491 L2047.44,492.82 L2051.24,494.63 L2055.04,496.43 L2058.84,498.22 L2062.63,500 L2066.43,501.76 L2070.23,503.52 L2074.03,505.26 L2077.83,506.99 L2081.62,508.71 L2085.42,510.42 L2089.22,512.12 L2093.02,513.81 L2096.82,515.48 L2100.61,517.15 L2104.41,518.8 L2108.21,520.45 L2112.01,522.08 L2115.81,523.7 L2119.61,525.31 L2123.4,526.92 L2127.2,528.51 L2131,530.09 L2134.8,531.66 L2138.6,533.22 L2142.39,534.77 L2146.19,536.31 L2149.99,537.84 L2153.79,539.36 L2157.59,540.87 L2161.38,542.37 L2165.18,543.86 L2168.98,545.35 L2172.78,546.82 L2176.58,548.28 L2180.37,549.73 L2184.17,551.18 L2187.97,552.61 L2191.77,554.04 L2195.57,555.45 L2199.36,556.86 L2203.16,558.26 L2206.96,559.64 L2210.76,561.02 L2214.56,562.39 L2218.35,563.76 L2222.15,565.11 L2225.95,566.45 L2229.75,567.79 L2233.55,569.12 L2237.34,570.43 L2241.14,571.74 L2244.94,573.04 L2248.74,574.34 L2252.54,575.62 L2256.33,576.9 L2260.13,578.17 L2263.93,579.43 L2267.73,580.68 L2271.53,581.92 L2275.32,583.16 L2279.12,584.38 L2282.92,585.6 L2286.72,586.81 L2290.52,588.02 L2294.31,589.21 L2298.11,590.4 L2301.91,591.58 L2305.71,592.76 L2309.51,593.92 L2313.31,595.08 L2317.1,596.23 L2320.9,597.37 L2324.7,598.51 L2328.5,599.64 L2332.3,600.76 L2336.09,601.87 L2339.89,602.98 L2343.69,604.08 L2347.49,605.17 L2351.29,606.25 L2355.08,607.33 L2358.88,608.4 L2362.68,609.47 L2366.48,610.52" stroke="#ff0000" stroke-width="6.62" stroke-dasharray="6.62 10.92" stroke-linecap="butt"/>
</g>
<rect x="1518.1" y="91.0" width="974.4" height="681.9" fill="none" stroke="#000" stroke-width="3.3" stroke-linejoin="miter"/>
<g stroke="#000" fill="none"><path d="M1518.1,772.9 V798.9" stroke-width="2.6"/><path d="M1734.63,772.9 V798.9" stroke-width="2.6"/><path d="M1951.17,772.9 V798.9" stroke-width="2.6"/><path d="M2167.7,772.9 V798.9" stroke-width="2.6"/><path d="M2384.23,772.9 V798.9" stroke-width="2.6"/><path d="M1626.37,772.9 V785.9" stroke-width="2.2"/><path d="M1842.9,772.9 V785.9" stroke-width="2.2"/><path d="M2059.43,772.9 V785.9" stroke-width="2.2"/><path d="M2275.97,772.9 V785.9" stroke-width="2.2"/><path d="M2492.5,772.9 V785.9" stroke-width="2.2"/><path d="M1518.1,772.9 H1492.1" stroke-width="2.6"/><path d="M1518.1,716.07 H1492.1" stroke-width="2.6"/><path d="M1518.1,659.25 H1492.1" stroke-width="2.6"/><path d="M1518.1,602.42 H1492.1" stroke-width="2.6"/><path d="M1518.1,545.6 H1492.1" stroke-width="2.6"/><path d="M1518.1,488.77 H1492.1" stroke-width="2.6"/><path d="M1518.1,431.95 H1492.1" stroke-width="2.6"/><path d="M1518.1,375.12 H1492.1" stroke-width="2.6"/><path d="M1518.1,318.3 H1492.1" stroke-width="2.6"/><path d="M1518.1,261.48 H1492.1" stroke-width="2.6"/><path d="M1518.1,204.65 H1492.1" stroke-width="2.6"/><path d="M1518.1,147.83 H1492.1" stroke-width="2.6"/><path d="M1518.1,91 H1492.1" stroke-width="2.6"/><path d="M1518.1,744.49 H1505.1" stroke-width="2.2"/><path d="M1518.1,687.66 H1505.1" stroke-width="2.2"/><path d="M1518.1,630.84 H1505.1" stroke-width="2.2"/><path d="M1518.1,574.01 H1505.1" stroke-width="2.2"/><path d="M1518.1,517.19 H1505.1" stroke-width="2.2"/><path d="M1518.1,460.36 H1505.1" stroke-width="2.2"/><path d="M1518.1,403.54 H1505.1" stroke-width="2.2"/><path d="M1518.1,346.71 H1505.1" stroke-width="2.2"/><path d="M1518.1,289.89 H1505.1" stroke-width="2.2"/><path d="M1518.1,233.06 H1505.1" stroke-width="2.2"/><path d="M1518.1,176.24 H1505.1" stroke-width="2.2"/><path d="M1518.1,119.41 H1505.1" stroke-width="2.2"/></g>
<g font-family="'Liberation Serif','Times New Roman',serif" font-size="59.5" fill="#000">
<text x="1518.1" y="864.5" text-anchor="middle">0.2</text>
<text x="1734.63" y="864.5" text-anchor="middle">0.4</text>
<text x="1951.17" y="864.5" text-anchor="middle">0.6</text>
<text x="2167.7" y="864.5" text-anchor="middle">0.8</text>
<text x="2384.23" y="864.5" text-anchor="middle">1.0</text>
<text x="1469.5" y="793.9" text-anchor="end">0.0</text>
<text x="1469.5" y="737.07" text-anchor="end">1.0</text>
<text x="1469.5" y="680.25" text-anchor="end">2.0</text>
<text x="1469.5" y="623.42" text-anchor="end">3.0</text>
<text x="1469.5" y="566.6" text-anchor="end">4.0</text>
<text x="1469.5" y="509.77" text-anchor="end">5.0</text>
<text x="1469.5" y="452.95" text-anchor="end">6.0</text>
<text x="1469.5" y="396.12" text-anchor="end">7.0</text>
<text x="1469.5" y="339.3" text-anchor="end">8.0</text>
<text x="1469.5" y="282.48" text-anchor="end">9.0</text>
<text x="1469.5" y="225.65" text-anchor="end">10.0</text>
<text x="1469.5" y="168.83" text-anchor="end">11.0</text>
<text x="1469.5" y="112" text-anchor="end">12.0</text>
</g>
<clipPath id="clipc"><rect x="239.5" y="1123.3" width="974.0" height="681.9000000000001"/></clipPath>
<g clip-path="url(#clipc)">
<rect x="324.58" y="1630.43" width="14.9" height="14.9" fill="none" stroke="#000" stroke-width="6.2" stroke-linejoin="round"/>
<rect x="605.63" y="1553.59" width="14.9" height="14.9" fill="none" stroke="#000" stroke-width="6.2" stroke-linejoin="round"/>
<rect x="758.77" y="1323.83" width="14.9" height="14.9" fill="none" stroke="#000" stroke-width="6.2" stroke-linejoin="round"/>
<rect x="889.82" y="1273.54" width="14.9" height="14.9" fill="none" stroke="#000" stroke-width="6.2" stroke-linejoin="round"/>
<rect x="977.48" y="1217.71" width="14.9" height="14.9" fill="none" stroke="#000" stroke-width="6.2" stroke-linejoin="round"/>
<rect x="1015.58" y="1370.71" width="14.9" height="14.9" fill="none" stroke="#000" stroke-width="6.2" stroke-linejoin="round"/>
<rect x="1034.84" y="1378.81" width="14.9" height="14.9" fill="none" stroke="#000" stroke-width="6.2" stroke-linejoin="round"/>
<rect x="1056.92" y="1331.93" width="14.9" height="14.9" fill="none" stroke="#000" stroke-width="6.2" stroke-linejoin="round"/>
<rect x="1065.04" y="1356.22" width="14.9" height="14.9" fill="none" stroke="#000" stroke-width="6.2" stroke-linejoin="round"/>
<rect x="1074.78" y="1317.01" width="14.9" height="14.9" fill="none" stroke="#000" stroke-width="6.2" stroke-linejoin="round"/>
<rect x="1080.08" y="1235.82" width="14.9" height="14.9" fill="none" stroke="#000" stroke-width="6.2" stroke-linejoin="round"/>
</g>
<g clip-path="url(#clipc)" stroke="#bfbfbf" stroke-width="5.2" stroke-dasharray="19.2 8.85" fill="none">
<path d="M239.5,1805.2 H1213.5"/>
<path d="M239.5,1719.96 H1213.5"/>
<path d="M239.5,1634.72 H1213.5"/>
<path d="M239.5,1549.49 H1213.5"/>
<path d="M239.5,1464.25 H1213.5"/>
<path d="M239.5,1379.01 H1213.5"/>
<path d="M239.5,1293.77 H1213.5"/>
<path d="M239.5,1208.54 H1213.5"/>
<path d="M239.5,1123.3 H1213.5"/>
<path d="M239.5,1805.2 V1123.3"/>
<path d="M455.94,1805.2 V1123.3"/>
<path d="M672.39,1805.2 V1123.3"/>
<path d="M888.83,1805.2 V1123.3"/>
<path d="M1105.28,1805.2 V1123.3"/>
</g>
<g clip-path="url(#clipc)" fill="none" stroke-linejoin="round">
<path d="M332.03,1610.68 L335.83,1608.84 L339.62,1606.99 L343.42,1605.15 L347.22,1603.32 L351.01,1601.49 L354.81,1599.67 L358.61,1597.85 L362.4,1596.03 L366.2,1594.22 L369.99,1592.42 L373.79,1590.62 L377.59,1588.82 L381.38,1587.03 L385.18,1585.24 L388.98,1583.46 L392.77,1581.68 L396.57,1579.9 L400.37,1578.13 L404.16,1576.36 L407.96,1574.6 L411.76,1572.84 L415.55,1571.08 L419.35,1569.33 L423.15,1567.58 L426.94,1565.84 L430.74,1564.1 L434.53,1562.36 L438.33,1560.63 L442.13,1558.9 L445.92,1557.17 L449.72,1555.45 L453.52,1553.73 L457.31,1552.01 L461.11,1550.3 L464.91,1548.59 L468.7,1546.88 L472.5,1545.18 L476.3,1543.48 L480.09,1541.78 L483.89,1540.09 L487.69,1538.4 L491.48,1536.71 L495.28,1535.03 L499.08,1533.35 L502.87,1531.67 L506.67,1530 L510.46,1528.33 L514.26,1526.66 L518.06,1524.99 L521.85,1523.33 L525.65,1521.67 L529.45,1520.01 L533.24,1518.36 L537.04,1516.7 L540.84,1515.05 L544.63,1513.41 L548.43,1511.76 L552.23,1510.12 L556.02,1508.49 L559.82,1506.85 L563.62,1505.22 L567.41,1503.59 L571.21,1501.96 L575,1500.33 L578.8,1498.71 L582.6,1497.09 L586.39,1495.47 L590.19,1493.86 L593.99,1492.24 L597.78,1490.63 L601.58,1489.02 L605.38,1487.42 L609.17,1485.82 L612.97,1484.21 L616.77,1482.62 L620.56,1481.02 L624.36,1479.43 L628.16,1477.83 L631.95,1476.24 L635.75,1474.66 L639.54,1473.07 L643.34,1471.49 L647.14,1469.91 L650.93,1468.33 L654.73,1466.75 L658.53,1465.18 L662.32,1463.61 L666.12,1462.04 L669.92,1460.47 L673.71,1458.9 L677.51,1457.34 L681.31,1455.78 L685.1,1454.22 L688.9,1452.66 L692.7,1451.1 L696.49,1449.55 L700.29,1448 L704.08,1446.45 L707.88,1444.9 L711.68,1443.35 L715.47,1441.81 L719.27,1440.27 L723.07,1438.73 L726.86,1437.19 L730.66,1435.65 L734.46,1434.12 L738.25,1432.58 L742.05,1431.05 L745.85,1429.52 L749.64,1428 L753.44,1426.47 L757.24,1424.95 L761.03,1423.42 L764.83,1421.9 L768.63,1420.39 L772.42,1418.87 L776.22,1417.35 L780.01,1415.84 L783.81,1414.33 L787.61,1412.82 L791.4,1411.31 L795.2,1409.8 L799,1408.3 L802.79,1406.8 L806.59,1405.29 L810.39,1403.79 L814.18,1402.3 L817.98,1400.8 L821.78,1399.3 L825.57,1397.81 L829.37,1396.32 L833.17,1394.83 L836.96,1393.34 L840.76,1391.85 L844.55,1390.37 L848.35,1388.88 L852.15,1387.4 L855.94,1385.92 L859.74,1384.44 L863.54,1382.96 L867.33,1381.49 L871.13,1380.01 L874.93,1378.54 L878.72,1377.07 L882.52,1375.6 L886.32,1374.13 L890.11,1372.66 L893.91,1371.19 L897.71,1369.73 L901.5,1368.26 L905.3,1366.8 L909.09,1365.34 L912.89,1363.88 L916.69,1362.43 L920.48,1360.97 L924.28,1359.51 L928.08,1358.06 L931.87,1356.61 L935.67,1355.16 L939.47,1353.71 L943.26,1352.26 L947.06,1350.81 L950.86,1349.37 L954.65,1347.93 L958.45,1346.48 L962.25,1345.04 L966.04,1343.6 L969.84,1342.16 L973.63,1340.73 L977.43,1339.29 L981.23,1337.85 L985.02,1336.42 L988.82,1334.99 L992.62,1333.56 L996.41,1332.13 L1000.21,1330.7 L1004.01,1329.27 L1007.8,1327.85 L1011.6,1326.42 L1015.4,1325 L1019.19,1323.58 L1022.99,1322.16 L1026.79,1320.74 L1030.58,1319.32 L1034.38,1317.9 L1038.18,1316.48 L1041.97,1315.07 L1045.77,1313.65 L1049.56,1312.24 L1053.36,1310.83 L1057.16,1309.42 L1060.95,1308.01 L1064.75,1306.6 L1068.55,1305.2 L1072.34,1303.79 L1076.14,1302.39 L1079.94,1300.98 L1083.73,1299.58 L1087.53,1298.18" stroke="#000" stroke-width="6.62" stroke-linecap="square"/>
<path d="M332.03,1612.68 L335.83,1611.07 L339.62,1609.47 L343.42,1607.87 L347.22,1606.26 L351.01,1604.66 L354.81,1603.05 L358.61,1601.45 L362.4,1599.84 L366.2,1598.24 L369.99,1596.63 L373.79,1595.03 L377.59,1593.42 L381.38,1591.82 L385.18,1590.21 L388.98,1588.61 L392.77,1587 L396.57,1585.4 L400.37,1583.8 L404.16,1582.19 L407.96,1580.59 L411.76,1578.98 L415.55,1577.38 L419.35,1575.77 L423.15,1574.17 L426.94,1572.56 L430.74,1570.96 L434.53,1569.35 L438.33,1567.75 L442.13,1566.14 L445.92,1564.54 L449.72,1562.93 L453.52,1561.33 L457.31,1559.73 L461.11,1558.12 L464.91,1556.52 L468.7,1554.91 L472.5,1553.31 L476.3,1551.7 L480.09,1550.1 L483.89,1548.49 L487.69,1546.89 L491.48,1545.28 L495.28,1543.68 L499.08,1542.07 L502.87,1540.47 L506.67,1538.86 L510.46,1537.26 L514.26,1535.66 L518.06,1534.05 L521.85,1532.45 L525.65,1530.84 L529.45,1529.24 L533.24,1527.63 L537.04,1526.03 L540.84,1524.42 L544.63,1522.82 L548.43,1521.21 L552.23,1519.61 L556.02,1518 L559.82,1516.4 L563.62,1514.79 L567.41,1513.19 L571.21,1511.59 L575,1509.98 L578.8,1508.38 L582.6,1506.77 L586.39,1505.17 L590.19,1503.56 L593.99,1501.96 L597.78,1500.35 L601.58,1498.75 L605.38,1497.14 L609.17,1495.54 L612.97,1493.93 L616.77,1492.33 L620.56,1490.72 L624.36,1489.12 L628.16,1487.52 L631.95,1485.91 L635.75,1484.31 L639.54,1482.7 L643.34,1481.1 L647.14,1479.49 L650.93,1477.89 L654.73,1476.28 L658.53,1474.68 L662.32,1473.07 L666.12,1471.47 L669.92,1469.86 L673.71,1468.26 L677.51,1466.65 L681.31,1465.05 L685.1,1463.44 L688.9,1461.84 L692.7,1460.24 L696.49,1458.63 L700.29,1457.03 L704.08,1455.42 L707.88,1453.82 L711.68,1452.21 L715.47,1450.61 L719.27,1449 L723.07,1447.4 L726.86,1445.79 L730.66,1444.19 L734.46,1442.58 L738.25,1440.98 L742.05,1439.37 L745.85,1437.77 L749.64,1436.17 L753.44,1434.56 L757.24,1432.96 L761.03,1431.35 L764.83,1429.75 L768.63,1428.14 L772.42,1426.54 L776.22,1424.93 L780.01,1423.33 L783.81,1421.72 L787.61,1420.12 L791.4,1418.51 L795.2,1416.91 L799,1415.3 L802.79,1413.7 L806.59,1412.1 L810.39,1410.49 L814.18,1408.89 L817.98,1407.28 L821.78,1405.68 L825.57,1404.07 L829.37,1402.47 L833.17,1400.86 L836.96,1399.26 L840.76,1397.65 L844.55,1396.05 L848.35,1394.44 L852.15,1392.84 L855.94,1391.23 L859.74,1389.63 L863.54,1388.03 L867.33,1386.42 L871.13,1384.82 L874.93,1383.21 L878.72,1381.61 L882.52,1380 L886.32,1378.4 L890.11,1376.79 L893.91,1375.19 L897.71,1373.58 L901.5,1371.98 L905.3,1370.37 L909.09,1368.77 L912.89,1367.16 L916.69,1365.56 L920.48,1363.96 L924.28,1362.35 L928.08,1360.75 L931.87,1359.14 L935.67,1357.54 L939.47,1355.93 L943.26,1354.33 L947.06,1352.72 L950.86,1351.12 L954.65,1349.51 L958.45,1347.91 L962.25,1346.3 L966.04,1344.7 L969.84,1343.09 L973.63,1341.49 L977.43,1339.89 L981.23,1338.28 L985.02,1336.68 L988.82,1335.07 L992.62,1333.47 L996.41,1331.86 L1000.21,1330.26 L1004.01,1328.65 L1007.8,1327.05 L1011.6,1325.44 L1015.4,1323.84 L1019.19,1322.23 L1022.99,1320.63 L1026.79,1319.02 L1030.58,1317.42 L1034.38,1315.82 L1038.18,1314.21 L1041.97,1312.61 L1045.77,1311 L1049.56,1309.4 L1053.36,1307.79 L1057.16,1306.19 L1060.95,1304.58 L1064.75,1302.98 L1068.55,1301.37 L1072.34,1299.77 L1076.14,1298.16 L1079.94,1296.56 L1083.73,1294.95 L1087.53,1293.35" stroke="#0000ff" stroke-width="6.62" stroke-dasharray="24.49 10.59" stroke-linecap="butt"/>
<path d="M332.03,1570.49 L335.83,1569.57 L339.62,1568.64 L343.42,1567.71 L347.22,1566.77 L351.01,1565.83 L354.81,1564.89 L358.61,1563.95 L362.4,1563 L366.2,1562.04 L369.99,1561.09 L373.79,1560.12 L377.59,1559.16 L381.38,1558.19 L385.18,1557.22 L388.98,1556.24 L392.77,1555.26 L396.57,1554.28 L400.37,1553.29 L404.16,1552.3 L407.96,1551.3 L411.76,1550.3 L415.55,1549.3 L419.35,1548.29 L423.15,1547.28 L426.94,1546.27 L430.74,1545.25 L434.53,1544.22 L438.33,1543.2 L442.13,1542.16 L445.92,1541.13 L449.72,1540.09 L453.52,1539.05 L457.31,1538 L461.11,1536.95 L464.91,1535.89 L468.7,1534.83 L472.5,1533.77 L476.3,1532.7 L480.09,1531.62 L483.89,1530.55 L487.69,1529.47 L491.48,1528.38 L495.28,1527.29 L499.08,1526.2 L502.87,1525.1 L506.67,1524 L510.46,1522.89 L514.26,1521.78 L518.06,1520.66 L521.85,1519.54 L525.65,1518.42 L529.45,1517.29 L533.24,1516.15 L537.04,1515.02 L540.84,1513.87 L544.63,1512.73 L548.43,1511.58 L552.23,1510.42 L556.02,1509.26 L559.82,1508.09 L563.62,1506.92 L567.41,1505.75 L571.21,1504.57 L575,1503.39 L578.8,1502.2 L582.6,1501.01 L586.39,1499.81 L590.19,1498.61 L593.99,1497.4 L597.78,1496.19 L601.58,1494.97 L605.38,1493.75 L609.17,1492.52 L612.97,1491.29 L616.77,1490.06 L620.56,1488.82 L624.36,1487.57 L628.16,1486.32 L631.95,1485.07 L635.75,1483.81 L639.54,1482.54 L643.34,1481.27 L647.14,1479.99 L650.93,1478.71 L654.73,1477.43 L658.53,1476.14 L662.32,1474.84 L666.12,1473.54 L669.92,1472.24 L673.71,1470.93 L677.51,1469.61 L681.31,1468.29 L685.1,1466.96 L688.9,1465.63 L692.7,1464.29 L696.49,1462.95 L700.29,1461.61 L704.08,1460.25 L707.88,1458.89 L711.68,1457.53 L715.47,1456.16 L719.27,1454.79 L723.07,1453.41 L726.86,1452.02 L730.66,1450.63 L734.46,1449.24 L738.25,1447.84 L742.05,1446.43 L745.85,1445.02 L749.64,1443.6 L753.44,1442.18 L757.24,1440.75 L761.03,1439.31 L764.83,1437.87 L768.63,1436.43 L772.42,1434.97 L776.22,1433.52 L780.01,1432.05 L783.81,1430.58 L787.61,1429.11 L791.4,1427.63 L795.2,1426.14 L799,1424.65 L802.79,1423.15 L806.59,1421.65 L810.39,1420.14 L814.18,1418.62 L817.98,1417.1 L821.78,1415.57 L825.57,1414.04 L829.37,1412.5 L833.17,1410.95 L836.96,1409.4 L840.76,1407.84 L844.55,1406.28 L848.35,1404.71 L852.15,1403.13 L855.94,1401.55 L859.74,1399.96 L863.54,1398.36 L867.33,1396.76 L871.13,1395.15 L874.93,1393.54 L878.72,1391.92 L882.52,1390.29 L886.32,1388.66 L890.11,1387.02 L893.91,1385.37 L897.71,1383.72 L901.5,1382.06 L905.3,1380.4 L909.09,1378.72 L912.89,1377.04 L916.69,1375.36 L920.48,1373.67 L924.28,1371.97 L928.08,1370.26 L931.87,1368.55 L935.67,1366.83 L939.47,1365.11 L943.26,1363.37 L947.06,1361.63 L950.86,1359.89 L954.65,1358.13 L958.45,1356.37 L962.25,1354.61 L966.04,1352.83 L969.84,1351.05 L973.63,1349.26 L977.43,1347.47 L981.23,1345.67 L985.02,1343.86 L988.82,1342.04 L992.62,1340.22 L996.41,1338.39 L1000.21,1336.55 L1004.01,1334.71 L1007.8,1332.85 L1011.6,1330.99 L1015.4,1329.13 L1019.19,1327.25 L1022.99,1325.37 L1026.79,1323.48 L1030.58,1321.59 L1034.38,1319.68 L1038.18,1317.77 L1041.97,1315.85 L1045.77,1313.93 L1049.56,1311.99 L1053.36,1310.05 L1057.16,1308.1 L1060.95,1306.14 L1064.75,1304.18 L1068.55,1302.21 L1072.34,1300.23 L1076.14,1298.24 L1079.94,1296.24 L1083.73,1294.24 L1087.53,1292.23" stroke="#ff0000" stroke-width="6.62" stroke-dasharray="6.62 10.92" stroke-linecap="butt"/>
</g>
<rect x="239.5" y="1123.3" width="974" height="681.9" fill="none" stroke="#000" stroke-width="3.3" stroke-linejoin="miter"/>
<g stroke="#000" fill="none"><path d="M239.5,1805.2 V1831.2" stroke-width="2.6"/><path d="M455.94,1805.2 V1831.2" stroke-width="2.6"/><path d="M672.39,1805.2 V1831.2" stroke-width="2.6"/><path d="M888.83,1805.2 V1831.2" stroke-width="2.6"/><path d="M1105.28,1805.2 V1831.2" stroke-width="2.6"/><path d="M347.72,1805.2 V1818.2" stroke-width="2.2"/><path d="M564.17,1805.2 V1818.2" stroke-width="2.2"/><path d="M780.61,1805.2 V1818.2" stroke-width="2.2"/><path d="M997.06,1805.2 V1818.2" stroke-width="2.2"/><path d="M1213.5,1805.2 V1818.2" stroke-width="2.2"/><path d="M239.5,1805.2 H213.5" stroke-width="2.6"/><path d="M239.5,1719.96 H213.5" stroke-width="2.6"/><path d="M239.5,1634.72 H213.5" stroke-width="2.6"/><path d="M239.5,1549.49 H213.5" stroke-width="2.6"/><path d="M239.5,1464.25 H213.5" stroke-width="2.6"/><path d="M239.5,1379.01 H213.5" stroke-width="2.6"/><path d="M239.5,1293.77 H213.5" stroke-width="2.6"/><path d="M239.5,1208.54 H213.5" stroke-width="2.6"/><path d="M239.5,1123.3 H213.5" stroke-width="2.6"/><path d="M239.5,1762.58 H226.5" stroke-width="2.2"/><path d="M239.5,1677.34 H226.5" stroke-width="2.2"/><path d="M239.5,1592.11 H226.5" stroke-width="2.2"/><path d="M239.5,1506.87 H226.5" stroke-width="2.2"/><path d="M239.5,1421.63 H226.5" stroke-width="2.2"/><path d="M239.5,1336.39 H226.5" stroke-width="2.2"/><path d="M239.5,1251.16 H226.5" stroke-width="2.2"/><path d="M239.5,1165.92 H226.5" stroke-width="2.2"/></g>
<g font-family="'Liberation Serif','Times New Roman',serif" font-size="66.67" fill="#000">
<text x="239.5" y="1900.9" text-anchor="middle">0.2</text>
<text x="455.94" y="1900.9" text-anchor="middle">0.4</text>
<text x="672.39" y="1900.9" text-anchor="middle">0.6</text>
<text x="888.83" y="1900.9" text-anchor="middle">0.8</text>
<text x="1105.28" y="1900.9" text-anchor="middle">1.0</text>
<text x="189.5" y="1829.4" text-anchor="end">0.0</text>
<text x="189.5" y="1744.16" text-anchor="end">0.2</text>
<text x="189.5" y="1658.92" text-anchor="end">0.4</text>
<text x="189.5" y="1573.69" text-anchor="end">0.6</text>
<text x="189.5" y="1488.45" text-anchor="end">0.8</text>
<text x="189.5" y="1403.21" text-anchor="end">1.0</text>
<text x="189.5" y="1317.97" text-anchor="end">1.2</text>
<text x="189.5" y="1232.74" text-anchor="end">1.4</text>
<text x="189.5" y="1147.5" text-anchor="end">1.6</text>
</g>
<clipPath id="clipd"><rect x="1518.1" y="1123.3" width="974.4000000000001" height="681.9000000000001"/></clipPath>
<g clip-path="url(#clipd)">
<path d="M1610.67,1485.73 L1621.2,1496.26 L1610.67,1506.8 L1600.13,1496.26 Z" fill="none" stroke="#000" stroke-width="6.2" stroke-linejoin="round"/>
<path d="M1891.84,1412.42 L1902.37,1422.96 L1891.84,1433.49 L1881.3,1422.96 Z" fill="none" stroke="#000" stroke-width="6.2" stroke-linejoin="round"/>
<path d="M2045.03,1346.5 L2055.57,1357.04 L2045.03,1367.58 L2034.5,1357.04 Z" fill="none" stroke="#000" stroke-width="6.2" stroke-linejoin="round"/>
<path d="M2176.14,1318.85 L2186.68,1329.39 L2176.14,1339.92 L2165.61,1329.39 Z" fill="none" stroke="#000" stroke-width="6.2" stroke-linejoin="round"/>
<path d="M2263.84,1327.94 L2274.38,1338.48 L2263.84,1349.01 L2253.3,1338.48 Z" fill="none" stroke="#000" stroke-width="6.2" stroke-linejoin="round"/>
<path d="M2301.95,1300.67 L2312.49,1311.2 L2301.95,1321.74 L2291.41,1311.2 Z" fill="none" stroke="#000" stroke-width="6.2" stroke-linejoin="round"/>
<path d="M2321.22,1295.36 L2331.76,1305.9 L2321.22,1316.43 L2310.69,1305.9 Z" fill="none" stroke="#000" stroke-width="6.2" stroke-linejoin="round"/>
<path d="M2343.31,1252.55 L2353.84,1263.09 L2343.31,1273.63 L2332.77,1263.09 Z" fill="none" stroke="#000" stroke-width="6.2" stroke-linejoin="round"/>
<path d="M2351.43,1420.38 L2361.96,1430.91 L2351.43,1441.45 L2340.89,1430.91 Z" fill="none" stroke="#000" stroke-width="6.2" stroke-linejoin="round"/>
<path d="M2361.17,1210.88 L2371.71,1221.42 L2361.17,1231.95 L2350.64,1221.42 Z" fill="none" stroke="#000" stroke-width="6.2" stroke-linejoin="round"/>
<path d="M2366.48,1298.77 L2377.01,1309.31 L2366.48,1319.84 L2355.94,1309.31 Z" fill="none" stroke="#000" stroke-width="6.2" stroke-linejoin="round"/>
</g>
<g clip-path="url(#clipd)" stroke="#bfbfbf" stroke-width="5.2" stroke-dasharray="19.2 8.85" fill="none">
<path d="M1518.1,1805.2 H2492.5"/>
<path d="M1518.1,1729.43 H2492.5"/>
<path d="M1518.1,1653.67 H2492.5"/>
<path d="M1518.1,1577.9 H2492.5"/>
<path d="M1518.1,1502.13 H2492.5"/>
<path d="M1518.1,1426.37 H2492.5"/>
<path d="M1518.1,1350.6 H2492.5"/>
<path d="M1518.1,1274.83 H2492.5"/>
<path d="M1518.1,1199.07 H2492.5"/>
<path d="M1518.1,1123.3 H2492.5"/>
<path d="M1518.1,1805.2 V1123.3"/>
<path d="M1626.37,1805.2 V1123.3"/>
<path d="M1734.63,1805.2 V1123.3"/>
<path d="M1842.9,1805.2 V1123.3"/>
<path d="M1951.17,1805.2 V1123.3"/>
<path d="M2059.43,1805.2 V1123.3"/>
<path d="M2167.7,1805.2 V1123.3"/>
<path d="M2275.97,1805.2 V1123.3"/>
<path d="M2384.23,1805.2 V1123.3"/>
</g>
<g clip-path="url(#clipd)" fill="none" stroke-linejoin="round">
<path d="M1610.67,1496.37 L1614.47,1494.89 L1618.26,1493.42 L1622.06,1491.96 L1625.86,1490.51 L1629.66,1489.07 L1633.46,1487.64 L1637.25,1486.22 L1641.05,1484.81 L1644.85,1483.41 L1648.65,1482.02 L1652.45,1480.64 L1656.24,1479.27 L1660.04,1477.9 L1663.84,1476.55 L1667.64,1475.2 L1671.44,1473.86 L1675.23,1472.53 L1679.03,1471.21 L1682.83,1469.9 L1686.63,1468.59 L1690.43,1467.3 L1694.22,1466.01 L1698.02,1464.72 L1701.82,1463.45 L1705.62,1462.18 L1709.42,1460.92 L1713.22,1459.67 L1717.01,1458.42 L1720.81,1457.18 L1724.61,1455.95 L1728.41,1454.72 L1732.21,1453.51 L1736,1452.29 L1739.8,1451.09 L1743.6,1449.89 L1747.4,1448.69 L1751.2,1447.51 L1754.99,1446.32 L1758.79,1445.15 L1762.59,1443.98 L1766.39,1442.82 L1770.19,1441.66 L1773.98,1440.51 L1777.78,1439.36 L1781.58,1438.22 L1785.38,1437.08 L1789.18,1435.95 L1792.97,1434.83 L1796.77,1433.71 L1800.57,1432.59 L1804.37,1431.48 L1808.17,1430.38 L1811.96,1429.28 L1815.76,1428.19 L1819.56,1427.1 L1823.36,1426.01 L1827.16,1424.93 L1830.95,1423.86 L1834.75,1422.79 L1838.55,1421.72 L1842.35,1420.66 L1846.15,1419.61 L1849.94,1418.55 L1853.74,1417.51 L1857.54,1416.46 L1861.34,1415.43 L1865.14,1414.39 L1868.93,1413.36 L1872.73,1412.33 L1876.53,1411.31 L1880.33,1410.29 L1884.13,1409.28 L1887.92,1408.27 L1891.72,1407.26 L1895.52,1406.26 L1899.32,1405.26 L1903.12,1404.27 L1906.91,1403.28 L1910.71,1402.29 L1914.51,1401.31 L1918.31,1400.33 L1922.11,1399.36 L1925.91,1398.38 L1929.7,1397.42 L1933.5,1396.45 L1937.3,1395.49 L1941.1,1394.53 L1944.9,1393.58 L1948.69,1392.63 L1952.49,1391.68 L1956.29,1390.73 L1960.09,1389.79 L1963.89,1388.86 L1967.68,1387.92 L1971.48,1386.99 L1975.28,1386.06 L1979.08,1385.14 L1982.88,1384.22 L1986.67,1383.3 L1990.47,1382.38 L1994.27,1381.47 L1998.07,1380.56 L2001.87,1379.66 L2005.66,1378.75 L2009.46,1377.85 L2013.26,1376.96 L2017.06,1376.06 L2020.86,1375.17 L2024.65,1374.28 L2028.45,1373.39 L2032.25,1372.51 L2036.05,1371.63 L2039.85,1370.75 L2043.64,1369.88 L2047.44,1369.01 L2051.24,1368.14 L2055.04,1367.27 L2058.84,1366.41 L2062.63,1365.55 L2066.43,1364.69 L2070.23,1363.83 L2074.03,1362.98 L2077.83,1362.13 L2081.62,1361.28 L2085.42,1360.43 L2089.22,1359.59 L2093.02,1358.75 L2096.82,1357.91 L2100.61,1357.07 L2104.41,1356.24 L2108.21,1355.41 L2112.01,1354.58 L2115.81,1353.75 L2119.61,1352.93 L2123.4,1352.1 L2127.2,1351.29 L2131,1350.47 L2134.8,1349.65 L2138.6,1348.84 L2142.39,1348.03 L2146.19,1347.22 L2149.99,1346.41 L2153.79,1345.61 L2157.59,1344.81 L2161.38,1344.01 L2165.18,1343.21 L2168.98,1342.42 L2172.78,1341.62 L2176.58,1340.83 L2180.37,1340.04 L2184.17,1339.26 L2187.97,1338.47 L2191.77,1337.69 L2195.57,1336.91 L2199.36,1336.13 L2203.16,1335.35 L2206.96,1334.58 L2210.76,1333.8 L2214.56,1333.03 L2218.35,1332.26 L2222.15,1331.5 L2225.95,1330.73 L2229.75,1329.97 L2233.55,1329.21 L2237.34,1328.45 L2241.14,1327.69 L2244.94,1326.93 L2248.74,1326.18 L2252.54,1325.43 L2256.33,1324.68 L2260.13,1323.93 L2263.93,1323.18 L2267.73,1322.44 L2271.53,1321.7 L2275.32,1320.95 L2279.12,1320.21 L2282.92,1319.48 L2286.72,1318.74 L2290.52,1318.01 L2294.31,1317.27 L2298.11,1316.54 L2301.91,1315.81 L2305.71,1315.09 L2309.51,1314.36 L2313.31,1313.64 L2317.1,1312.91 L2320.9,1312.19 L2324.7,1311.47 L2328.5,1310.76 L2332.3,1310.04 L2336.09,1309.33 L2339.89,1308.61 L2343.69,1307.9 L2347.49,1307.19 L2351.29,1306.48 L2355.08,1305.78 L2358.88,1305.07 L2362.68,1304.37 L2366.48,1303.67" stroke="#000" stroke-width="10.4" stroke-linecap="square"/>
<path d="M1610.67,1485.96 L1614.47,1485.01 L1618.26,1484.07 L1622.06,1483.12 L1625.86,1482.18 L1629.66,1481.24 L1633.46,1480.29 L1637.25,1479.35 L1641.05,1478.41 L1644.85,1477.46 L1648.65,1476.52 L1652.45,1475.58 L1656.24,1474.63 L1660.04,1473.69 L1663.84,1472.75 L1667.64,1471.8 L1671.44,1470.86 L1675.23,1469.91 L1679.03,1468.97 L1682.83,1468.03 L1686.63,1467.08 L1690.43,1466.14 L1694.22,1465.2 L1698.02,1464.25 L1701.82,1463.31 L1705.62,1462.37 L1709.42,1461.42 L1713.22,1460.48 L1717.01,1459.54 L1720.81,1458.59 L1724.61,1457.65 L1728.41,1456.7 L1732.21,1455.76 L1736,1454.82 L1739.8,1453.87 L1743.6,1452.93 L1747.4,1451.99 L1751.2,1451.04 L1754.99,1450.1 L1758.79,1449.16 L1762.59,1448.21 L1766.39,1447.27 L1770.19,1446.33 L1773.98,1445.38 L1777.78,1444.44 L1781.58,1443.49 L1785.38,1442.55 L1789.18,1441.61 L1792.97,1440.66 L1796.77,1439.72 L1800.57,1438.78 L1804.37,1437.83 L1808.17,1436.89 L1811.96,1435.95 L1815.76,1435 L1819.56,1434.06 L1823.36,1433.12 L1827.16,1432.17 L1830.95,1431.23 L1834.75,1430.29 L1838.55,1429.34 L1842.35,1428.4 L1846.15,1427.45 L1849.94,1426.51 L1853.74,1425.57 L1857.54,1424.62 L1861.34,1423.68 L1865.14,1422.74 L1868.93,1421.79 L1872.73,1420.85 L1876.53,1419.91 L1880.33,1418.96 L1884.13,1418.02 L1887.92,1417.08 L1891.72,1416.13 L1895.52,1415.19 L1899.32,1414.24 L1903.12,1413.3 L1906.91,1412.36 L1910.71,1411.41 L1914.51,1410.47 L1918.31,1409.53 L1922.11,1408.58 L1925.91,1407.64 L1929.7,1406.7 L1933.5,1405.75 L1937.3,1404.81 L1941.1,1403.87 L1944.9,1402.92 L1948.69,1401.98 L1952.49,1401.03 L1956.29,1400.09 L1960.09,1399.15 L1963.89,1398.2 L1967.68,1397.26 L1971.48,1396.32 L1975.28,1395.37 L1979.08,1394.43 L1982.88,1393.49 L1986.67,1392.54 L1990.47,1391.6 L1994.27,1390.66 L1998.07,1389.71 L2001.87,1388.77 L2005.66,1387.82 L2009.46,1386.88 L2013.26,1385.94 L2017.06,1384.99 L2020.86,1384.05 L2024.65,1383.11 L2028.45,1382.16 L2032.25,1381.22 L2036.05,1380.28 L2039.85,1379.33 L2043.64,1378.39 L2047.44,1377.45 L2051.24,1376.5 L2055.04,1375.56 L2058.84,1374.61 L2062.63,1373.67 L2066.43,1372.73 L2070.23,1371.78 L2074.03,1370.84 L2077.83,1369.9 L2081.62,1368.95 L2085.42,1368.01 L2089.22,1367.07 L2093.02,1366.12 L2096.82,1365.18 L2100.61,1364.24 L2104.41,1363.29 L2108.21,1362.35 L2112.01,1361.4 L2115.81,1360.46 L2119.61,1359.52 L2123.4,1358.57 L2127.2,1357.63 L2131,1356.69 L2134.8,1355.74 L2138.6,1354.8 L2142.39,1353.86 L2146.19,1352.91 L2149.99,1351.97 L2153.79,1351.03 L2157.59,1350.08 L2161.38,1349.14 L2165.18,1348.19 L2168.98,1347.25 L2172.78,1346.31 L2176.58,1345.36 L2180.37,1344.42 L2184.17,1343.48 L2187.97,1342.53 L2191.77,1341.59 L2195.57,1340.65 L2199.36,1339.7 L2203.16,1338.76 L2206.96,1337.82 L2210.76,1336.87 L2214.56,1335.93 L2218.35,1334.99 L2222.15,1334.04 L2225.95,1333.1 L2229.75,1332.15 L2233.55,1331.21 L2237.34,1330.27 L2241.14,1329.32 L2244.94,1328.38 L2248.74,1327.44 L2252.54,1326.49 L2256.33,1325.55 L2260.13,1324.61 L2263.93,1323.66 L2267.73,1322.72 L2271.53,1321.78 L2275.32,1320.83 L2279.12,1319.89 L2282.92,1318.94 L2286.72,1318 L2290.52,1317.06 L2294.31,1316.11 L2298.11,1315.17 L2301.91,1314.23 L2305.71,1313.28 L2309.51,1312.34 L2313.31,1311.4 L2317.1,1310.45 L2320.9,1309.51 L2324.7,1308.57 L2328.5,1307.62 L2332.3,1306.68 L2336.09,1305.73 L2339.89,1304.79 L2343.69,1303.85 L2347.49,1302.9 L2351.29,1301.96 L2355.08,1301.02 L2358.88,1300.07 L2362.68,1299.13 L2366.48,1298.19" stroke="#0000ff" stroke-width="6.62" stroke-dasharray="24.49 10.59" stroke-linecap="butt"/>
<path d="M1610.67,1478.69 L1614.47,1477.97 L1618.26,1477.24 L1622.06,1476.52 L1625.86,1475.79 L1629.66,1475.06 L1633.46,1474.33 L1637.25,1473.6 L1641.05,1472.87 L1644.85,1472.13 L1648.65,1471.39 L1652.45,1470.66 L1656.24,1469.92 L1660.04,1469.17 L1663.84,1468.43 L1667.64,1467.69 L1671.44,1466.94 L1675.23,1466.19 L1679.03,1465.44 L1682.83,1464.69 L1686.63,1463.94 L1690.43,1463.18 L1694.22,1462.42 L1698.02,1461.67 L1701.82,1460.9 L1705.62,1460.14 L1709.42,1459.38 L1713.22,1458.61 L1717.01,1457.85 L1720.81,1457.08 L1724.61,1456.31 L1728.41,1455.54 L1732.21,1454.76 L1736,1453.99 L1739.8,1453.21 L1743.6,1452.43 L1747.4,1451.65 L1751.2,1450.87 L1754.99,1450.09 L1758.79,1449.3 L1762.59,1448.51 L1766.39,1447.72 L1770.19,1446.93 L1773.98,1446.14 L1777.78,1445.35 L1781.58,1444.55 L1785.38,1443.75 L1789.18,1442.95 L1792.97,1442.15 L1796.77,1441.35 L1800.57,1440.54 L1804.37,1439.73 L1808.17,1438.93 L1811.96,1438.12 L1815.76,1437.3 L1819.56,1436.49 L1823.36,1435.67 L1827.16,1434.86 L1830.95,1434.04 L1834.75,1433.22 L1838.55,1432.39 L1842.35,1431.57 L1846.15,1430.74 L1849.94,1429.91 L1853.74,1429.08 L1857.54,1428.25 L1861.34,1427.42 L1865.14,1426.58 L1868.93,1425.74 L1872.73,1424.9 L1876.53,1424.06 L1880.33,1423.22 L1884.13,1422.37 L1887.92,1421.53 L1891.72,1420.68 L1895.52,1419.83 L1899.32,1418.97 L1903.12,1418.12 L1906.91,1417.26 L1910.71,1416.4 L1914.51,1415.54 L1918.31,1414.68 L1922.11,1413.82 L1925.91,1412.95 L1929.7,1412.08 L1933.5,1411.21 L1937.3,1410.34 L1941.1,1409.47 L1944.9,1408.59 L1948.69,1407.72 L1952.49,1406.84 L1956.29,1405.96 L1960.09,1405.07 L1963.89,1404.19 L1967.68,1403.3 L1971.48,1402.41 L1975.28,1401.52 L1979.08,1400.63 L1982.88,1399.73 L1986.67,1398.83 L1990.47,1397.94 L1994.27,1397.03 L1998.07,1396.13 L2001.87,1395.23 L2005.66,1394.32 L2009.46,1393.41 L2013.26,1392.5 L2017.06,1391.59 L2020.86,1390.67 L2024.65,1389.75 L2028.45,1388.83 L2032.25,1387.91 L2036.05,1386.99 L2039.85,1386.06 L2043.64,1385.14 L2047.44,1384.21 L2051.24,1383.28 L2055.04,1382.34 L2058.84,1381.41 L2062.63,1380.47 L2066.43,1379.53 L2070.23,1378.59 L2074.03,1377.64 L2077.83,1376.7 L2081.62,1375.75 L2085.42,1374.8 L2089.22,1373.85 L2093.02,1372.89 L2096.82,1371.94 L2100.61,1370.98 L2104.41,1370.02 L2108.21,1369.05 L2112.01,1368.09 L2115.81,1367.12 L2119.61,1366.15 L2123.4,1365.18 L2127.2,1364.21 L2131,1363.23 L2134.8,1362.25 L2138.6,1361.27 L2142.39,1360.29 L2146.19,1359.31 L2149.99,1358.32 L2153.79,1357.33 L2157.59,1356.34 L2161.38,1355.35 L2165.18,1354.35 L2168.98,1353.36 L2172.78,1352.36 L2176.58,1351.35 L2180.37,1350.35 L2184.17,1349.34 L2187.97,1348.34 L2191.77,1347.32 L2195.57,1346.31 L2199.36,1345.3 L2203.16,1344.28 L2206.96,1343.26 L2210.76,1342.24 L2214.56,1341.21 L2218.35,1340.19 L2222.15,1339.16 L2225.95,1338.13 L2229.75,1337.09 L2233.55,1336.06 L2237.34,1335.02 L2241.14,1333.98 L2244.94,1332.94 L2248.74,1331.89 L2252.54,1330.84 L2256.33,1329.79 L2260.13,1328.74 L2263.93,1327.69 L2267.73,1326.63 L2271.53,1325.57 L2275.32,1324.51 L2279.12,1323.45 L2282.92,1322.38 L2286.72,1321.31 L2290.52,1320.24 L2294.31,1319.17 L2298.11,1318.1 L2301.91,1317.02 L2305.71,1315.94 L2309.51,1314.85 L2313.31,1313.77 L2317.1,1312.68 L2320.9,1311.59 L2324.7,1310.5 L2328.5,1309.41 L2332.3,1308.31 L2336.09,1307.21 L2339.89,1306.11 L2343.69,1305 L2347.49,1303.9 L2351.29,1302.79 L2355.08,1301.68 L2358.88,1300.56 L2362.68,1299.45 L2366.48,1298.33" stroke="#ff0000" stroke-width="6.62" stroke-dasharray="6.62 10.92" stroke-linecap="butt"/>
</g>
<rect x="1518.1" y="1123.3" width="974.4" height="681.9" fill="none" stroke="#000" stroke-width="3.3" stroke-linejoin="miter"/>
<g stroke="#000" fill="none"><path d="M1518.1,1805.2 V1831.2" stroke-width="2.6"/><path d="M1626.37,1805.2 V1831.2" stroke-width="2.6"/><path d="M1734.63,1805.2 V1831.2" stroke-width="2.6"/><path d="M1842.9,1805.2 V1831.2" stroke-width="2.6"/><path d="M1951.17,1805.2 V1831.2" stroke-width="2.6"/><path d="M2059.43,1805.2 V1831.2" stroke-width="2.6"/><path d="M2167.7,1805.2 V1831.2" stroke-width="2.6"/><path d="M2275.97,1805.2 V1831.2" stroke-width="2.6"/><path d="M2384.23,1805.2 V1831.2" stroke-width="2.6"/><path d="M2492.5,1805.2 V1818.2" stroke-width="2.2"/><path d="M1518.1,1805.2 H1492.1" stroke-width="2.6"/><path d="M1518.1,1729.43 H1492.1" stroke-width="2.6"/><path d="M1518.1,1653.67 H1492.1" stroke-width="2.6"/><path d="M1518.1,1577.9 H1492.1" stroke-width="2.6"/><path d="M1518.1,1502.13 H1492.1" stroke-width="2.6"/><path d="M1518.1,1426.37 H1492.1" stroke-width="2.6"/><path d="M1518.1,1350.6 H1492.1" stroke-width="2.6"/><path d="M1518.1,1274.83 H1492.1" stroke-width="2.6"/><path d="M1518.1,1199.07 H1492.1" stroke-width="2.6"/><path d="M1518.1,1123.3 H1492.1" stroke-width="2.6"/><path d="M1518.1,1767.32 H1505.1" stroke-width="2.2"/><path d="M1518.1,1691.55 H1505.1" stroke-width="2.2"/><path d="M1518.1,1615.78 H1505.1" stroke-width="2.2"/><path d="M1518.1,1540.02 H1505.1" stroke-width="2.2"/><path d="M1518.1,1464.25 H1505.1" stroke-width="2.2"/><path d="M1518.1,1388.48 H1505.1" stroke-width="2.2"/><path d="M1518.1,1312.72 H1505.1" stroke-width="2.2"/><path d="M1518.1,1236.95 H1505.1" stroke-width="2.2"/><path d="M1518.1,1161.18 H1505.1" stroke-width="2.2"/></g>
<g font-family="'Liberation Serif','Times New Roman',serif" font-size="66.67" fill="#000">
<text x="1518.1" y="1900.9" text-anchor="middle">0.2</text>
<text x="1626.37" y="1900.9" text-anchor="middle">0.3</text>
<text x="1734.63" y="1900.9" text-anchor="middle">0.4</text>
<text x="1842.9" y="1900.9" text-anchor="middle">0.5</text>
<text x="1951.17" y="1900.9" text-anchor="middle">0.6</text>
<text x="2059.43" y="1900.9" text-anchor="middle">0.7</text>
<text x="2167.7" y="1900.9" text-anchor="middle">0.8</text>
<text x="2275.97" y="1900.9" text-anchor="middle">0.9</text>
<text x="2384.23" y="1900.9" text-anchor="middle">1.0</text>
<text x="1468.1" y="1829.4" text-anchor="end">0.0</text>
<text x="1468.1" y="1753.63" text-anchor="end">0.2</text>
<text x="1468.1" y="1677.87" text-anchor="end">0.4</text>
<text x="1468.1" y="1602.1" text-anchor="end">0.6</text>
<text x="1468.1" y="1526.33" text-anchor="end">0.8</text>
<text x="1468.1" y="1450.57" text-anchor="end">1.0</text>
<text x="1468.1" y="1374.8" text-anchor="end">1.2</text>
<text x="1468.1" y="1299.03" text-anchor="end">1.4</text>
<text x="1468.1" y="1223.27" text-anchor="end">1.6</text>
<text x="1468.1" y="1147.5" text-anchor="end">1.8</text>
</g>
<g font-family="'Liberation Serif','Times New Roman',serif" fill="#000">
<g transform="matrix(1.01720,0,0,1,-11.804,0)">
<text id="titlea" x="722.5" y="45" font-size="58.33" text-anchor="middle"><tspan font-weight="bold">Fitting: a vs. </tspan><tspan font-style="italic">θ</tspan><tspan font-size="40.83" dy="8.52">1</tspan></text>
</g>
<g transform="matrix(1.02133,0,0,1,-39.777,0)">
<text id="titleb" x="2001.3" y="45" font-size="58.33" text-anchor="middle"><tspan font-weight="bold">Fitting: b vs. </tspan><tspan font-style="italic">θ</tspan><tspan font-size="40.83" dy="8.52">2</tspan></text>
</g>
<g transform="matrix(1.02609,0,0,1,-17.222,0)">
<text id="titlec" x="722.5" y="1076.8" font-size="58.33" text-anchor="middle"><tspan font-weight="bold">Fitting: m vs. </tspan><tspan font-style="italic">θ</tspan><tspan font-size="40.83" dy="8.52">2</tspan></text>
</g>
<g transform="matrix(1.02133,0,0,1,-39.777,0)">
<text id="titled" x="2001.3" y="1076.8" font-size="58.33" text-anchor="middle"><tspan font-weight="bold">Fitting: n vs. </tspan><tspan font-style="italic">θ</tspan><tspan font-size="40.83" dy="8.52">2</tspan></text>
</g>
<text x="725" y="943.5" font-size="58.33" text-anchor="middle"><tspan font-style="italic">θ</tspan><tspan font-size="40.83" dy="8.52">1</tspan></text>
<text x="2003.8" y="943.5" font-size="58.33" text-anchor="middle"><tspan font-style="italic">θ</tspan><tspan font-size="40.83" dy="8.52">2</tspan></text>
<text x="725" y="1981.5" font-size="58.33" text-anchor="middle"><tspan font-style="italic">θ</tspan><tspan font-size="40.83" dy="8.52">2</tspan></text>
<text x="2003.8" y="1981.5" font-size="58.33" text-anchor="middle"><tspan font-style="italic">θ</tspan><tspan font-size="40.83" dy="8.52">2</tspan></text>
<g transform="matrix(1,0,0,1.03054,0,-12.728)">
<text transform="translate(46.6,431.95) rotate(-90)" x="0" y="0" font-size="58.33" text-anchor="middle">a*1000</text>
</g>
<text transform="translate(1323.8,431.95) rotate(-90)" x="0" y="0" font-size="58.33" text-anchor="middle">b</text>
<text transform="translate(68.8,1464.25) rotate(-90)" x="0" y="0" font-size="58.33" text-anchor="middle">m</text>
<text transform="translate(1346.8,1464.25) rotate(-90)" x="0" y="0" font-size="58.33" text-anchor="middle">n</text>
<text x="253.1" y="581.2" font-size="58.33" font-weight="bold">(a)</text>
<text x="1531.7" y="581.2" font-size="58.33" font-weight="bold">(b)</text>
<text x="253.1" y="1613.5" font-size="58.33" font-weight="bold">(c)</text>
<text x="1531.7" y="1613.5" font-size="58.33" font-weight="bold">(d)</text>
</g>
<rect x="278.55" y="387.85" width="473.2" height="118.5" rx="9" ry="9" fill="#fff" stroke="#000" stroke-width="6.3"/>
<g font-family="'Liberation Serif','Times New Roman',serif" font-size="33.33" fill="#000">
<text x="287.4" y="420.8">Power: RMSE=1.6880 R²=0.5706</text>
<text x="287.4" y="454.5">Linear: RMSE=1.7056 R²=0.5617</text>
<text x="287.4" y="488.2">Exp: RMSE=1.6155 R²=0.6068</text>
</g>
<rect x="1557.35" y="626.85" width="473.2" height="118.5" rx="9" ry="9" fill="#fff" stroke="#000" stroke-width="6.3"/>
<g font-family="'Liberation Serif','Times New Roman',serif" font-size="33.33" fill="#000">
<text x="1566.2" y="659.8">Power: RMSE=0.7839 R²=0.8869</text>
<text x="1566.2" y="693.5">Linear: RMSE=1.2477 R²=0.7135</text>
<text x="1566.2" y="727.2">Exp: RMSE=0.9922 R²=0.8188</text>
</g>
<rect x="668.55" y="1659.25" width="473.2" height="118.5" rx="9" ry="9" fill="#fff" stroke="#000" stroke-width="6.3"/>
<g font-family="'Liberation Serif','Times New Roman',serif" font-size="33.33" fill="#000">
<text x="677.4" y="1692.2">Power: RMSE=0.1603 R²=0.6749</text>
<text x="677.4" y="1725.9">Linear: RMSE=0.1630 R²=0.6639</text>
<text x="677.4" y="1759.6">Exp: RMSE=0.1754 R²=0.6109</text>
</g>
<rect x="1946.85" y="1659.25" width="473.2" height="118.5" rx="9" ry="9" fill="#fff" stroke="#000" stroke-width="6.3"/>
<g font-family="'Liberation Serif','Times New Roman',serif" font-size="33.33" fill="#000">
<text x="1955.7" y="1692.2">Power: RMSE=0.1264 R²=0.5934</text>
<text x="1955.7" y="1725.9">Linear: RMSE=0.1272 R²=0.5886</text>
<text x="1955.7" y="1759.6">Exp: RMSE=0.1286 R²=0.5796</text>
</g>
<rect x="256.2" y="107.7" width="459" height="192.6" rx="7" ry="7" fill="#fff" stroke="#d0d0d0" stroke-width="6.0"/>
<circle cx="301.85" cy="134.9" r="7.45" fill="none" stroke="#000" stroke-width="6.2" stroke-linejoin="round"/>
<path d="M268.5,177.9 H335.2" stroke="#000" stroke-width="6.62" stroke-linecap="square"/>
<path d="M268.5,223.1 H335.2" stroke="#0000ff" stroke-width="6.62" stroke-dasharray="24.49 10.59"/>
<path d="M268.5,262.9 H335.2" stroke="#ff0000" stroke-width="6.62" stroke-dasharray="6.62 10.92"/>
<g font-family="'Liberation Serif','Times New Roman',serif" font-size="33.33" fill="#000">
<text x="345.2" y="144">Data</text>
<text x="345.2" y="183.3">Power: a = 6.30·<tspan font-style="italic">θ</tspan><tspan font-size="23.33" dy="9.33">1</tspan><tspan font-size="23.33" dx="-8.37" dy="-19.66">1.2470</tspan></text>
<text x="345.2" y="230.8">Linear: a = 6.72·<tspan font-style="italic">θ</tspan><tspan font-size="23.33" dy="4.67">1</tspan><tspan dy="-4.67"> + -0.41</tspan></text>
<text x="345.2" y="270.6">Exp: a = 0.56·exp(2.67·<tspan font-style="italic">θ</tspan><tspan font-size="23.33" dy="4.67">1</tspan><tspan dy="-4.67">)</tspan></text>
</g>
<rect x="1983.3" y="107.8" width="492.1" height="192.6" rx="7" ry="7" fill="#fff" stroke="#d0d0d0" stroke-width="6.0"/>
<path d="M2028.95,127.55 L2021.5,142.45 L2036.4,142.45 Z" fill="none" stroke="#000" stroke-width="6.2" stroke-linejoin="round"/>
<path d="M1995.6,178 H2062.3" stroke="#000" stroke-width="6.62" stroke-linecap="square"/>
<path d="M1995.6,223.2 H2062.3" stroke="#0000ff" stroke-width="6.62" stroke-dasharray="24.49 10.59"/>
<path d="M1995.6,263 H2062.3" stroke="#ff0000" stroke-width="6.62" stroke-dasharray="6.62 10.92"/>
<g font-family="'Liberation Serif','Times New Roman',serif" font-size="33.33" fill="#000">
<text x="2072.3" y="144.1">Data</text>
<text x="2072.3" y="183.4">Power: b = 3.1216·<tspan font-style="italic">θ</tspan><tspan font-size="23.33" dy="9.33">2</tspan><tspan font-size="23.33" dx="-8.37" dy="-19.66">−1.2270</tspan></text>
<text x="2072.3" y="230.9">Linear: b = -9.21·<tspan font-style="italic">θ</tspan><tspan font-size="23.33" dy="4.67">2</tspan><tspan dy="-4.67"> + 11.84</tspan></text>
<text x="2072.3" y="270.7">Exp: b = 17.63·exp(-1.85·<tspan font-style="italic">θ</tspan><tspan font-size="23.33" dy="4.67">2</tspan><tspan dy="-4.67">)</tspan></text>
</g>
<rect x="256.3" y="1140" width="472.7" height="192.6" rx="7" ry="7" fill="#fff" stroke="#d0d0d0" stroke-width="6.0"/>
<rect x="294.5" y="1159.75" width="14.9" height="14.9" fill="none" stroke="#000" stroke-width="6.2" stroke-linejoin="round"/>
<path d="M268.6,1210.2 H335.3" stroke="#000" stroke-width="6.62" stroke-linecap="square"/>
<path d="M268.6,1255.4 H335.3" stroke="#0000ff" stroke-width="6.62" stroke-dasharray="24.49 10.59"/>
<path d="M268.6,1295.2 H335.3" stroke="#ff0000" stroke-width="6.62" stroke-dasharray="6.62 10.92"/>
<g font-family="'Liberation Serif','Times New Roman',serif" font-size="33.33" fill="#000">
<text x="345.3" y="1176.3">Data</text>
<text x="345.3" y="1215.6">Power: m = 1.2042·<tspan font-style="italic">θ</tspan><tspan font-size="23.33" dy="9.33">2</tspan><tspan font-size="23.33" dx="-8.37" dy="-19.66">1.1571</tspan></text>
<text x="345.3" y="1263.1">Linear: m = 1.07·<tspan font-style="italic">θ</tspan><tspan font-size="23.33" dy="4.67">2</tspan><tspan dy="-4.67"> + 0.15</tspan></text>
<text x="345.3" y="1302.9">Exp: m = 0.40·exp(1.12·<tspan font-style="italic">θ</tspan><tspan font-size="23.33" dy="4.67">2</tspan><tspan dy="-4.67">)</tspan></text>
</g>
<rect x="1535.4" y="1140.4" width="465.4" height="192.6" rx="7" ry="7" fill="#fff" stroke="#d0d0d0" stroke-width="6.0"/>
<path d="M1581.05,1157.06 L1591.59,1167.6 L1581.05,1178.14 L1570.51,1167.6 Z" fill="none" stroke="#000" stroke-width="6.2" stroke-linejoin="round"/>
<path d="M1547.7,1210.6 H1614.4" stroke="#000" stroke-width="10.4" stroke-linecap="square"/>
<path d="M1547.7,1255.8 H1614.4" stroke="#0000ff" stroke-width="6.62" stroke-dasharray="24.49 10.59"/>
<path d="M1547.7,1295.6 H1614.4" stroke="#ff0000" stroke-width="6.62" stroke-dasharray="6.62 10.92"/>
<g font-family="'Liberation Serif','Times New Roman',serif" font-size="33.33" fill="#000">
<text x="1624.4" y="1176.7">Data</text>
<text x="1624.4" y="1216">Power: n = 1.3467·<tspan font-style="italic">θ</tspan><tspan font-size="23.33" dy="9.33">2</tspan><tspan font-size="23.33" dx="-8.37" dy="-19.66">0.5073</tspan></text>
<text x="1624.4" y="1263.5">Linear: n = 0.71·<tspan font-style="italic">θ</tspan><tspan font-size="23.33" dy="4.67">2</tspan><tspan dy="-4.67"> + 0.64</tspan></text>
<text x="1624.4" y="1303.3">Exp: n = 0.72·exp(0.63·<tspan font-style="italic">θ</tspan><tspan font-size="23.33" dy="4.67">2</tspan><tspan dy="-4.67">)</tspan></text>
</g>
</svg>
</body></html>
